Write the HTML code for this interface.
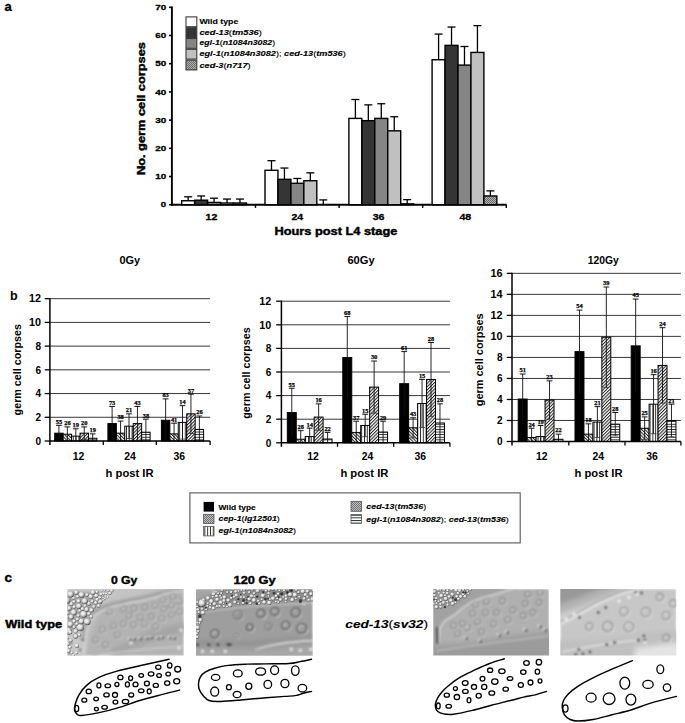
<!DOCTYPE html><html><head><meta charset="utf-8"><style>html,body{margin:0;padding:0;background:#fff;width:685px;height:723px;overflow:hidden}svg{display:block}</style></head><body>
<svg width="685" height="723" viewBox="0 0 685 723">
<defs>
<pattern id="pc3" width="2" height="2" patternUnits="userSpaceOnUse"><rect width="2" height="2" fill="#b0b0b0"/><rect width="1" height="1" fill="#6a6a6a"/><rect x="1" y="1" width="1" height="1" fill="#6a6a6a"/></pattern>
<pattern id="pcep" width="2.3" height="2.3" patternUnits="userSpaceOnUse" patternTransform="rotate(-45)"><rect width="2.3" height="2.3" fill="#fff"/><rect width="1.0" height="2.3" fill="#222"/></pattern>
<pattern id="pegl" width="2.8" height="4" patternUnits="userSpaceOnUse"><rect width="2.8" height="4" fill="#fff"/><rect width="0.9" height="4" fill="#222"/></pattern>
<pattern id="pced" width="2.3" height="2.3" patternUnits="userSpaceOnUse" patternTransform="rotate(45)"><rect width="2.3" height="2.3" fill="#fff"/><rect width="1.0" height="2.3" fill="#222"/></pattern>
<pattern id="pdbl" width="4" height="2.6" patternUnits="userSpaceOnUse"><rect width="4" height="2.6" fill="#fff"/><rect width="4" height="0.9" fill="#222"/></pattern>
<pattern id="plegcep" width="2" height="2" patternUnits="userSpaceOnUse"><rect width="2" height="2" fill="#c0c0c0"/><rect width="1" height="1" fill="#707070"/><rect x="1" y="1" width="1" height="1" fill="#707070"/></pattern>
</defs>
<rect width="685" height="723" fill="#fff"/>
<text x="4.4" y="10.7" font-family='"Liberation Sans", sans-serif' font-size="13" font-weight="bold" font-style="normal" text-anchor="start" stroke="#000" stroke-width="0.3" fill="#000" >a</text>
<line x1="171.90" y1="6.50" x2="171.90" y2="205.70" stroke="#000" stroke-width="1.9"/>
<line x1="170.90" y1="204.70" x2="506.60" y2="204.70" stroke="#000" stroke-width="1.9"/>
<line x1="169.00" y1="204.70" x2="171.90" y2="204.70" stroke="#000" stroke-width="1.6"/>
<text x="166.2" y="207.4" font-family='"Liberation Sans", sans-serif' font-size="8" font-weight="bold" font-style="normal" text-anchor="end" textLength="5.4" lengthAdjust="spacingAndGlyphs" stroke="#000" stroke-width="0.3" fill="#000" >0</text>
<line x1="169.00" y1="176.50" x2="171.90" y2="176.50" stroke="#000" stroke-width="1.6"/>
<text x="166.2" y="179.2" font-family='"Liberation Sans", sans-serif' font-size="8" font-weight="bold" font-style="normal" text-anchor="end" textLength="11.0" lengthAdjust="spacingAndGlyphs" stroke="#000" stroke-width="0.3" fill="#000" >10</text>
<line x1="169.00" y1="148.30" x2="171.90" y2="148.30" stroke="#000" stroke-width="1.6"/>
<text x="166.2" y="151.0" font-family='"Liberation Sans", sans-serif' font-size="8" font-weight="bold" font-style="normal" text-anchor="end" textLength="11.0" lengthAdjust="spacingAndGlyphs" stroke="#000" stroke-width="0.3" fill="#000" >20</text>
<line x1="169.00" y1="120.10" x2="171.90" y2="120.10" stroke="#000" stroke-width="1.6"/>
<text x="166.2" y="122.8" font-family='"Liberation Sans", sans-serif' font-size="8" font-weight="bold" font-style="normal" text-anchor="end" textLength="11.0" lengthAdjust="spacingAndGlyphs" stroke="#000" stroke-width="0.3" fill="#000" >30</text>
<line x1="169.00" y1="91.90" x2="171.90" y2="91.90" stroke="#000" stroke-width="1.6"/>
<text x="166.2" y="94.6" font-family='"Liberation Sans", sans-serif' font-size="8" font-weight="bold" font-style="normal" text-anchor="end" textLength="11.0" lengthAdjust="spacingAndGlyphs" stroke="#000" stroke-width="0.3" fill="#000" >40</text>
<line x1="169.00" y1="63.70" x2="171.90" y2="63.70" stroke="#000" stroke-width="1.6"/>
<text x="166.2" y="66.4" font-family='"Liberation Sans", sans-serif' font-size="8" font-weight="bold" font-style="normal" text-anchor="end" textLength="11.0" lengthAdjust="spacingAndGlyphs" stroke="#000" stroke-width="0.3" fill="#000" >50</text>
<line x1="169.00" y1="35.50" x2="171.90" y2="35.50" stroke="#000" stroke-width="1.6"/>
<text x="166.2" y="38.2" font-family='"Liberation Sans", sans-serif' font-size="8" font-weight="bold" font-style="normal" text-anchor="end" textLength="11.0" lengthAdjust="spacingAndGlyphs" stroke="#000" stroke-width="0.3" fill="#000" >60</text>
<line x1="169.00" y1="7.30" x2="171.90" y2="7.30" stroke="#000" stroke-width="1.6"/>
<text x="166.2" y="10.1" font-family='"Liberation Sans", sans-serif' font-size="8" font-weight="bold" font-style="normal" text-anchor="end" textLength="11.0" lengthAdjust="spacingAndGlyphs" stroke="#000" stroke-width="0.3" fill="#000" >70</text>
<line x1="255.50" y1="204.70" x2="255.50" y2="207.90" stroke="#000" stroke-width="1.4"/>
<line x1="339.10" y1="204.70" x2="339.10" y2="207.90" stroke="#000" stroke-width="1.4"/>
<line x1="422.70" y1="204.70" x2="422.70" y2="207.90" stroke="#000" stroke-width="1.4"/>
<line x1="506.30" y1="204.70" x2="506.30" y2="207.90" stroke="#000" stroke-width="1.4"/>
<line x1="188.17" y1="200.75" x2="188.17" y2="196.80" stroke="#000" stroke-width="1.3"/>
<line x1="184.17" y1="196.80" x2="192.17" y2="196.80" stroke="#000" stroke-width="1.3"/>
<rect x="181.70" y="200.75" width="12.95" height="3.95" fill="#ffffff" stroke="#000" stroke-width="1.4"/>
<line x1="201.12" y1="200.19" x2="201.12" y2="195.96" stroke="#000" stroke-width="1.3"/>
<line x1="197.12" y1="195.96" x2="205.12" y2="195.96" stroke="#000" stroke-width="1.3"/>
<rect x="194.65" y="200.19" width="12.95" height="4.51" fill="#353535" stroke="#000" stroke-width="1.4"/>
<line x1="214.07" y1="202.44" x2="214.07" y2="198.21" stroke="#000" stroke-width="1.3"/>
<line x1="210.07" y1="198.21" x2="218.07" y2="198.21" stroke="#000" stroke-width="1.3"/>
<rect x="207.60" y="202.44" width="12.95" height="2.26" fill="#858585" stroke="#000" stroke-width="1.4"/>
<line x1="227.02" y1="203.01" x2="227.02" y2="199.06" stroke="#000" stroke-width="1.3"/>
<line x1="223.02" y1="199.06" x2="231.02" y2="199.06" stroke="#000" stroke-width="1.3"/>
<rect x="220.55" y="203.01" width="12.95" height="1.69" fill="#c0c0c0" stroke="#000" stroke-width="1.4"/>
<line x1="239.97" y1="203.01" x2="239.97" y2="199.06" stroke="#000" stroke-width="1.3"/>
<line x1="235.97" y1="199.06" x2="243.97" y2="199.06" stroke="#000" stroke-width="1.3"/>
<rect x="233.50" y="203.01" width="12.95" height="1.69" fill="url(#pc3)" stroke="#000" stroke-width="1.4"/>
<line x1="271.48" y1="170.30" x2="271.48" y2="160.71" stroke="#000" stroke-width="1.3"/>
<line x1="267.48" y1="160.71" x2="275.48" y2="160.71" stroke="#000" stroke-width="1.3"/>
<rect x="265.00" y="170.30" width="12.95" height="34.40" fill="#ffffff" stroke="#000" stroke-width="1.4"/>
<line x1="284.43" y1="179.32" x2="284.43" y2="168.04" stroke="#000" stroke-width="1.3"/>
<line x1="280.43" y1="168.04" x2="288.43" y2="168.04" stroke="#000" stroke-width="1.3"/>
<rect x="277.95" y="179.32" width="12.95" height="25.38" fill="#353535" stroke="#000" stroke-width="1.4"/>
<line x1="297.38" y1="183.27" x2="297.38" y2="178.47" stroke="#000" stroke-width="1.3"/>
<line x1="293.38" y1="178.47" x2="301.38" y2="178.47" stroke="#000" stroke-width="1.3"/>
<rect x="290.90" y="183.27" width="12.95" height="21.43" fill="#858585" stroke="#000" stroke-width="1.4"/>
<line x1="310.33" y1="180.73" x2="310.33" y2="172.83" stroke="#000" stroke-width="1.3"/>
<line x1="306.33" y1="172.83" x2="314.33" y2="172.83" stroke="#000" stroke-width="1.3"/>
<rect x="303.85" y="180.73" width="12.95" height="23.97" fill="#c0c0c0" stroke="#000" stroke-width="1.4"/>
<line x1="323.28" y1="204.56" x2="323.28" y2="199.91" stroke="#000" stroke-width="1.3"/>
<line x1="319.28" y1="199.91" x2="327.28" y2="199.91" stroke="#000" stroke-width="1.3"/>
<line x1="355.38" y1="118.41" x2="355.38" y2="99.51" stroke="#000" stroke-width="1.3"/>
<line x1="351.38" y1="99.51" x2="359.38" y2="99.51" stroke="#000" stroke-width="1.3"/>
<rect x="348.90" y="118.41" width="12.95" height="86.29" fill="#ffffff" stroke="#000" stroke-width="1.4"/>
<line x1="368.32" y1="120.66" x2="368.32" y2="104.87" stroke="#000" stroke-width="1.3"/>
<line x1="364.32" y1="104.87" x2="372.32" y2="104.87" stroke="#000" stroke-width="1.3"/>
<rect x="361.85" y="120.66" width="12.95" height="84.04" fill="#353535" stroke="#000" stroke-width="1.4"/>
<line x1="381.27" y1="118.41" x2="381.27" y2="103.74" stroke="#000" stroke-width="1.3"/>
<line x1="377.27" y1="103.74" x2="385.27" y2="103.74" stroke="#000" stroke-width="1.3"/>
<rect x="374.80" y="118.41" width="12.95" height="86.29" fill="#858585" stroke="#000" stroke-width="1.4"/>
<line x1="394.23" y1="130.82" x2="394.23" y2="116.72" stroke="#000" stroke-width="1.3"/>
<line x1="390.23" y1="116.72" x2="398.23" y2="116.72" stroke="#000" stroke-width="1.3"/>
<rect x="387.75" y="130.82" width="12.95" height="73.88" fill="#c0c0c0" stroke="#000" stroke-width="1.4"/>
<line x1="407.18" y1="203.85" x2="407.18" y2="199.62" stroke="#000" stroke-width="1.3"/>
<line x1="403.18" y1="199.62" x2="411.18" y2="199.62" stroke="#000" stroke-width="1.3"/>
<rect x="400.70" y="203.85" width="12.95" height="0.85" fill="url(#pc3)" stroke="#000" stroke-width="1.4"/>
<line x1="438.58" y1="59.75" x2="438.58" y2="34.09" stroke="#000" stroke-width="1.3"/>
<line x1="434.58" y1="34.09" x2="442.58" y2="34.09" stroke="#000" stroke-width="1.3"/>
<rect x="432.10" y="59.75" width="12.95" height="144.95" fill="#ffffff" stroke="#000" stroke-width="1.4"/>
<line x1="451.53" y1="45.37" x2="451.53" y2="27.04" stroke="#000" stroke-width="1.3"/>
<line x1="447.53" y1="27.04" x2="455.53" y2="27.04" stroke="#000" stroke-width="1.3"/>
<rect x="445.05" y="45.37" width="12.95" height="159.33" fill="#353535" stroke="#000" stroke-width="1.4"/>
<line x1="464.48" y1="65.11" x2="464.48" y2="46.50" stroke="#000" stroke-width="1.3"/>
<line x1="460.48" y1="46.50" x2="468.48" y2="46.50" stroke="#000" stroke-width="1.3"/>
<rect x="458.00" y="65.11" width="12.95" height="139.59" fill="#858585" stroke="#000" stroke-width="1.4"/>
<line x1="477.43" y1="52.42" x2="477.43" y2="25.63" stroke="#000" stroke-width="1.3"/>
<line x1="473.43" y1="25.63" x2="481.43" y2="25.63" stroke="#000" stroke-width="1.3"/>
<rect x="470.95" y="52.42" width="12.95" height="152.28" fill="#c0c0c0" stroke="#000" stroke-width="1.4"/>
<line x1="490.38" y1="195.96" x2="490.38" y2="190.88" stroke="#000" stroke-width="1.3"/>
<line x1="486.38" y1="190.88" x2="494.38" y2="190.88" stroke="#000" stroke-width="1.3"/>
<rect x="483.90" y="195.96" width="12.95" height="8.74" fill="url(#pc3)" stroke="#000" stroke-width="1.4"/>
<text x="0.0" y="0.0" font-family='"Liberation Sans", sans-serif' font-size="10" font-weight="bold" font-style="normal" text-anchor="start" textLength="133.0" lengthAdjust="spacingAndGlyphs" stroke="#000" stroke-width="0.4" fill="#000" transform="translate(144.6,175.1) rotate(-90)">No. germ cell corpses</text>
<text x="274.4" y="234.7" font-family='"Liberation Sans", sans-serif' font-size="10" font-weight="bold" font-style="normal" text-anchor="start" textLength="123.0" lengthAdjust="spacingAndGlyphs" stroke="#000" stroke-width="0.4" fill="#000" >Hours post L4 stage</text>
<text x="211.4" y="219.8" font-family='"Liberation Sans", sans-serif' font-size="9" font-weight="bold" font-style="normal" text-anchor="middle" textLength="11.8" lengthAdjust="spacingAndGlyphs" stroke="#000" stroke-width="0.3" fill="#000" >12</text>
<text x="297.3" y="219.8" font-family='"Liberation Sans", sans-serif' font-size="9" font-weight="bold" font-style="normal" text-anchor="middle" textLength="11.8" lengthAdjust="spacingAndGlyphs" stroke="#000" stroke-width="0.3" fill="#000" >24</text>
<text x="378.6" y="219.8" font-family='"Liberation Sans", sans-serif' font-size="9" font-weight="bold" font-style="normal" text-anchor="middle" textLength="11.8" lengthAdjust="spacingAndGlyphs" stroke="#000" stroke-width="0.3" fill="#000" >36</text>
<text x="465.3" y="219.8" font-family='"Liberation Sans", sans-serif' font-size="9" font-weight="bold" font-style="normal" text-anchor="middle" textLength="11.8" lengthAdjust="spacingAndGlyphs" stroke="#000" stroke-width="0.3" fill="#000" >48</text>
<rect x="186.00" y="16.90" width="10.80" height="9.80" fill="#ffffff" stroke="#3a3a3a" stroke-width="1.1"/>
<rect x="186.00" y="27.70" width="10.80" height="9.80" fill="#353535" stroke="#3a3a3a" stroke-width="1.1"/>
<rect x="186.00" y="38.50" width="10.80" height="9.80" fill="#858585" stroke="#3a3a3a" stroke-width="1.1"/>
<rect x="186.00" y="49.30" width="10.80" height="9.80" fill="#c0c0c0" stroke="#3a3a3a" stroke-width="1.1"/>
<rect x="186.00" y="60.10" width="10.80" height="9.80" fill="url(#pc3)" stroke="#3a3a3a" stroke-width="1.1"/>
<text x="199.4" y="24.1" font-family='"Liberation Sans", sans-serif' font-size="7.4" font-weight="bold" textLength="38.9" lengthAdjust="spacingAndGlyphs" stroke="#000" stroke-width="0.12" fill="#000"><tspan font-style="normal" font-weight="bold">Wild type</tspan></text>
<text x="199.4" y="34.8" font-family='"Liberation Sans", sans-serif' font-size="7.4" font-weight="bold" textLength="62.5" lengthAdjust="spacingAndGlyphs" stroke="#000" stroke-width="0.12" fill="#000"><tspan font-style="italic" font-weight="bold">ced-13</tspan><tspan font-style="normal" font-weight="normal">(</tspan><tspan font-style="italic" font-weight="bold">tm536</tspan><tspan font-style="normal" font-weight="normal">)</tspan></text>
<text x="199.4" y="45.3" font-family='"Liberation Sans", sans-serif' font-size="7.4" font-weight="bold" textLength="75.7" lengthAdjust="spacingAndGlyphs" stroke="#000" stroke-width="0.12" fill="#000"><tspan font-style="italic" font-weight="bold">egl-1</tspan><tspan font-style="normal" font-weight="normal">(</tspan><tspan font-style="italic" font-weight="bold">n1084n3082</tspan><tspan font-style="normal" font-weight="normal">)</tspan></text>
<text x="199.4" y="56.4" font-family='"Liberation Sans", sans-serif' font-size="7.4" font-weight="bold" textLength="146.4" lengthAdjust="spacingAndGlyphs" stroke="#000" stroke-width="0.12" fill="#000"><tspan font-style="italic" font-weight="bold">egl-1</tspan><tspan font-style="normal" font-weight="normal">(</tspan><tspan font-style="italic" font-weight="bold">n1084n3082</tspan><tspan font-style="normal" font-weight="normal">); </tspan><tspan font-style="italic" font-weight="bold">ced-13</tspan><tspan font-style="normal" font-weight="normal">(</tspan><tspan font-style="italic" font-weight="bold">tm536</tspan><tspan font-style="normal" font-weight="normal">)</tspan></text>
<text x="199.4" y="67.6" font-family='"Liberation Sans", sans-serif' font-size="7.4" font-weight="bold" textLength="51.3" lengthAdjust="spacingAndGlyphs" stroke="#000" stroke-width="0.12" fill="#000"><tspan font-style="italic" font-weight="bold">ced-3</tspan><tspan font-style="normal" font-weight="normal">(</tspan><tspan font-style="italic" font-weight="bold">n717</tspan><tspan font-style="normal" font-weight="normal">)</tspan></text>
<text x="9.9" y="299.7" font-family='"Liberation Sans", sans-serif' font-size="12.5" font-weight="bold" font-style="normal" text-anchor="start" fill="#000" >b</text>
<line x1="49.90" y1="417.28" x2="210.10" y2="417.28" stroke="#383838" stroke-width="1.0"/>
<line x1="49.90" y1="393.56" x2="210.10" y2="393.56" stroke="#383838" stroke-width="1.0"/>
<line x1="49.90" y1="369.84" x2="210.10" y2="369.84" stroke="#383838" stroke-width="1.0"/>
<line x1="49.90" y1="346.12" x2="210.10" y2="346.12" stroke="#383838" stroke-width="1.0"/>
<line x1="49.90" y1="322.40" x2="210.10" y2="322.40" stroke="#383838" stroke-width="1.0"/>
<line x1="49.90" y1="298.68" x2="210.10" y2="298.68" stroke="#383838" stroke-width="1.0"/>
<rect x="54.70" y="433.17" width="8.44" height="7.83" fill="#000" stroke="#000" stroke-width="1.0"/>
<line x1="58.92" y1="425.34" x2="58.92" y2="441.00" stroke="#111" stroke-width="0.9"/>
<line x1="56.02" y1="425.34" x2="61.82" y2="425.34" stroke="#000" stroke-width="0.9"/>
<text x="58.9" y="423.6" font-family='"Liberation Serif", serif' font-size="6.7" font-weight="bold" font-style="normal" text-anchor="middle" textLength="6.4" lengthAdjust="spacingAndGlyphs" stroke="#000" stroke-width="0.25" fill="#000" >55</text>
<rect x="63.14" y="434.24" width="8.44" height="6.76" fill="url(#pcep)" stroke="#000" stroke-width="1.0"/>
<line x1="67.36" y1="426.89" x2="67.36" y2="441.00" stroke="#111" stroke-width="0.9"/>
<line x1="64.46" y1="426.89" x2="70.26" y2="426.89" stroke="#000" stroke-width="0.9"/>
<text x="67.4" y="425.2" font-family='"Liberation Serif", serif' font-size="6.7" font-weight="bold" font-style="normal" text-anchor="middle" textLength="6.4" lengthAdjust="spacingAndGlyphs" stroke="#000" stroke-width="0.25" fill="#000" >26</text>
<rect x="71.58" y="436.14" width="8.44" height="4.86" fill="url(#pegl)" stroke="#000" stroke-width="1.0"/>
<line x1="75.80" y1="428.78" x2="75.80" y2="441.00" stroke="#111" stroke-width="0.9"/>
<line x1="72.90" y1="428.78" x2="78.70" y2="428.78" stroke="#000" stroke-width="0.9"/>
<text x="75.8" y="427.1" font-family='"Liberation Serif", serif' font-size="6.7" font-weight="bold" font-style="normal" text-anchor="middle" textLength="6.4" lengthAdjust="spacingAndGlyphs" stroke="#000" stroke-width="0.25" fill="#000" >19</text>
<rect x="80.02" y="433.17" width="8.44" height="7.83" fill="url(#pced)" stroke="#000" stroke-width="1.0"/>
<line x1="84.24" y1="426.89" x2="84.24" y2="439.46" stroke="#111" stroke-width="0.9"/>
<line x1="81.34" y1="426.89" x2="87.14" y2="426.89" stroke="#000" stroke-width="0.9"/>
<line x1="81.34" y1="439.46" x2="87.14" y2="439.46" stroke="#333" stroke-width="0.8"/>
<text x="84.2" y="425.2" font-family='"Liberation Serif", serif' font-size="6.7" font-weight="bold" font-style="normal" text-anchor="middle" textLength="6.4" lengthAdjust="spacingAndGlyphs" stroke="#000" stroke-width="0.25" fill="#000" >20</text>
<rect x="88.46" y="438.27" width="8.44" height="2.73" fill="url(#pdbl)" stroke="#000" stroke-width="1.0"/>
<line x1="92.68" y1="433.88" x2="92.68" y2="441.00" stroke="#111" stroke-width="0.9"/>
<line x1="89.78" y1="433.88" x2="95.58" y2="433.88" stroke="#000" stroke-width="0.9"/>
<text x="92.7" y="432.2" font-family='"Liberation Serif", serif' font-size="6.7" font-weight="bold" font-style="normal" text-anchor="middle" textLength="6.4" lengthAdjust="spacingAndGlyphs" stroke="#000" stroke-width="0.25" fill="#000" >19</text>
<rect x="107.90" y="423.57" width="8.44" height="17.43" fill="#000" stroke="#000" stroke-width="1.0"/>
<line x1="112.12" y1="406.49" x2="112.12" y2="440.64" stroke="#111" stroke-width="0.9"/>
<line x1="109.22" y1="406.49" x2="115.02" y2="406.49" stroke="#000" stroke-width="0.9"/>
<text x="112.1" y="404.8" font-family='"Liberation Serif", serif' font-size="6.7" font-weight="bold" font-style="normal" text-anchor="middle" textLength="6.4" lengthAdjust="spacingAndGlyphs" stroke="#000" stroke-width="0.25" fill="#000" >73</text>
<rect x="116.34" y="433.17" width="8.44" height="7.83" fill="url(#pcep)" stroke="#000" stroke-width="1.0"/>
<line x1="120.56" y1="421.08" x2="120.56" y2="441.00" stroke="#111" stroke-width="0.9"/>
<line x1="117.66" y1="421.08" x2="123.46" y2="421.08" stroke="#000" stroke-width="0.9"/>
<text x="120.6" y="419.4" font-family='"Liberation Serif", serif' font-size="6.7" font-weight="bold" font-style="normal" text-anchor="middle" textLength="6.4" lengthAdjust="spacingAndGlyphs" stroke="#000" stroke-width="0.25" fill="#000" >38</text>
<rect x="124.78" y="426.18" width="8.44" height="14.82" fill="url(#pegl)" stroke="#000" stroke-width="1.0"/>
<line x1="129.00" y1="413.84" x2="129.00" y2="438.51" stroke="#111" stroke-width="0.9"/>
<line x1="126.10" y1="413.84" x2="131.90" y2="413.84" stroke="#000" stroke-width="0.9"/>
<line x1="126.10" y1="438.51" x2="131.90" y2="438.51" stroke="#333" stroke-width="0.8"/>
<text x="129.0" y="412.1" font-family='"Liberation Serif", serif' font-size="6.7" font-weight="bold" font-style="normal" text-anchor="middle" textLength="6.4" lengthAdjust="spacingAndGlyphs" stroke="#000" stroke-width="0.25" fill="#000" >21</text>
<rect x="133.22" y="423.57" width="8.44" height="17.43" fill="url(#pced)" stroke="#000" stroke-width="1.0"/>
<line x1="137.44" y1="406.49" x2="137.44" y2="440.64" stroke="#111" stroke-width="0.9"/>
<line x1="134.54" y1="406.49" x2="140.34" y2="406.49" stroke="#000" stroke-width="0.9"/>
<text x="137.4" y="404.8" font-family='"Liberation Serif", serif' font-size="6.7" font-weight="bold" font-style="normal" text-anchor="middle" textLength="6.4" lengthAdjust="spacingAndGlyphs" stroke="#000" stroke-width="0.25" fill="#000" >43</text>
<rect x="141.66" y="432.22" width="8.44" height="8.78" fill="url(#pdbl)" stroke="#000" stroke-width="1.0"/>
<line x1="145.88" y1="419.18" x2="145.88" y2="441.00" stroke="#111" stroke-width="0.9"/>
<line x1="142.98" y1="419.18" x2="148.78" y2="419.18" stroke="#000" stroke-width="0.9"/>
<text x="145.9" y="417.5" font-family='"Liberation Serif", serif' font-size="6.7" font-weight="bold" font-style="normal" text-anchor="middle" textLength="6.4" lengthAdjust="spacingAndGlyphs" stroke="#000" stroke-width="0.25" fill="#000" >38</text>
<rect x="161.40" y="420.25" width="8.44" height="20.75" fill="#000" stroke="#000" stroke-width="1.0"/>
<line x1="165.62" y1="398.90" x2="165.62" y2="441.00" stroke="#111" stroke-width="0.9"/>
<line x1="162.72" y1="398.90" x2="168.52" y2="398.90" stroke="#000" stroke-width="0.9"/>
<text x="165.6" y="397.2" font-family='"Liberation Serif", serif' font-size="6.7" font-weight="bold" font-style="normal" text-anchor="middle" textLength="6.4" lengthAdjust="spacingAndGlyphs" stroke="#000" stroke-width="0.25" fill="#000" >83</text>
<rect x="169.84" y="433.88" width="8.44" height="7.12" fill="url(#pcep)" stroke="#000" stroke-width="1.0"/>
<line x1="174.06" y1="423.21" x2="174.06" y2="441.00" stroke="#111" stroke-width="0.9"/>
<line x1="171.16" y1="423.21" x2="176.96" y2="423.21" stroke="#000" stroke-width="0.9"/>
<text x="174.1" y="421.5" font-family='"Liberation Serif", serif' font-size="6.7" font-weight="bold" font-style="normal" text-anchor="middle" textLength="6.4" lengthAdjust="spacingAndGlyphs" stroke="#000" stroke-width="0.25" fill="#000" >41</text>
<rect x="178.28" y="422.38" width="8.44" height="18.62" fill="url(#pegl)" stroke="#000" stroke-width="1.0"/>
<line x1="182.50" y1="405.66" x2="182.50" y2="439.10" stroke="#111" stroke-width="0.9"/>
<line x1="179.60" y1="405.66" x2="185.40" y2="405.66" stroke="#000" stroke-width="0.9"/>
<line x1="179.60" y1="439.10" x2="185.40" y2="439.10" stroke="#333" stroke-width="0.8"/>
<text x="182.5" y="404.0" font-family='"Liberation Serif", serif' font-size="6.7" font-weight="bold" font-style="normal" text-anchor="middle" textLength="6.4" lengthAdjust="spacingAndGlyphs" stroke="#000" stroke-width="0.25" fill="#000" >14</text>
<rect x="186.72" y="413.84" width="8.44" height="27.16" fill="url(#pced)" stroke="#000" stroke-width="1.0"/>
<line x1="190.94" y1="394.15" x2="190.94" y2="433.53" stroke="#111" stroke-width="0.9"/>
<line x1="188.04" y1="394.15" x2="193.84" y2="394.15" stroke="#000" stroke-width="0.9"/>
<line x1="188.04" y1="433.53" x2="193.84" y2="433.53" stroke="#333" stroke-width="0.8"/>
<text x="190.9" y="392.5" font-family='"Liberation Serif", serif' font-size="6.7" font-weight="bold" font-style="normal" text-anchor="middle" textLength="6.4" lengthAdjust="spacingAndGlyphs" stroke="#000" stroke-width="0.25" fill="#000" >37</text>
<rect x="195.16" y="429.38" width="8.44" height="11.62" fill="url(#pdbl)" stroke="#000" stroke-width="1.0"/>
<line x1="199.38" y1="415.98" x2="199.38" y2="441.00" stroke="#111" stroke-width="0.9"/>
<line x1="196.48" y1="415.98" x2="202.28" y2="415.98" stroke="#000" stroke-width="0.9"/>
<text x="199.4" y="414.3" font-family='"Liberation Serif", serif' font-size="6.7" font-weight="bold" font-style="normal" text-anchor="middle" textLength="6.4" lengthAdjust="spacingAndGlyphs" stroke="#000" stroke-width="0.25" fill="#000" >26</text>
<line x1="49.90" y1="298.18" x2="49.90" y2="445.00" stroke="#000" stroke-width="1.5"/>
<line x1="49.90" y1="441.00" x2="210.10" y2="441.00" stroke="#000" stroke-width="1.5"/>
<line x1="44.70" y1="441.00" x2="49.90" y2="441.00" stroke="#000" stroke-width="1.3"/>
<text x="41.0" y="444.7" font-family='"Liberation Sans", sans-serif' font-size="10" font-weight="bold" font-style="normal" text-anchor="end" textLength="5.6" lengthAdjust="spacingAndGlyphs" fill="#000" >0</text>
<line x1="44.70" y1="417.28" x2="49.90" y2="417.28" stroke="#000" stroke-width="1.3"/>
<text x="41.0" y="421.0" font-family='"Liberation Sans", sans-serif' font-size="10" font-weight="bold" font-style="normal" text-anchor="end" textLength="5.6" lengthAdjust="spacingAndGlyphs" fill="#000" >2</text>
<line x1="44.70" y1="393.56" x2="49.90" y2="393.56" stroke="#000" stroke-width="1.3"/>
<text x="41.0" y="397.3" font-family='"Liberation Sans", sans-serif' font-size="10" font-weight="bold" font-style="normal" text-anchor="end" textLength="5.6" lengthAdjust="spacingAndGlyphs" fill="#000" >4</text>
<line x1="44.70" y1="369.84" x2="49.90" y2="369.84" stroke="#000" stroke-width="1.3"/>
<text x="41.0" y="373.5" font-family='"Liberation Sans", sans-serif' font-size="10" font-weight="bold" font-style="normal" text-anchor="end" textLength="5.6" lengthAdjust="spacingAndGlyphs" fill="#000" >6</text>
<line x1="44.70" y1="346.12" x2="49.90" y2="346.12" stroke="#000" stroke-width="1.3"/>
<text x="41.0" y="349.8" font-family='"Liberation Sans", sans-serif' font-size="10" font-weight="bold" font-style="normal" text-anchor="end" textLength="5.6" lengthAdjust="spacingAndGlyphs" fill="#000" >8</text>
<line x1="44.70" y1="322.40" x2="49.90" y2="322.40" stroke="#000" stroke-width="1.3"/>
<text x="41.0" y="326.1" font-family='"Liberation Sans", sans-serif' font-size="10" font-weight="bold" font-style="normal" text-anchor="end" textLength="12.0" lengthAdjust="spacingAndGlyphs" fill="#000" >10</text>
<line x1="44.70" y1="298.68" x2="49.90" y2="298.68" stroke="#000" stroke-width="1.3"/>
<text x="41.0" y="302.4" font-family='"Liberation Sans", sans-serif' font-size="10" font-weight="bold" font-style="normal" text-anchor="end" textLength="12.0" lengthAdjust="spacingAndGlyphs" fill="#000" >12</text>
<line x1="103.30" y1="441.00" x2="103.30" y2="445.00" stroke="#000" stroke-width="1.3"/>
<line x1="156.30" y1="441.00" x2="156.30" y2="445.00" stroke="#000" stroke-width="1.3"/>
<line x1="210.10" y1="441.00" x2="210.10" y2="445.00" stroke="#000" stroke-width="1.3"/>
<text x="119.4" y="264.0" font-family='"Liberation Sans", sans-serif' font-size="10.5" font-weight="bold" font-style="normal" text-anchor="start" textLength="20.7" lengthAdjust="spacingAndGlyphs" fill="#000" >0Gy</text>
<text x="0.0" y="0.0" font-family='"Liberation Sans", sans-serif' font-size="10" font-weight="bold" font-style="normal" text-anchor="start" textLength="91.3" lengthAdjust="spacingAndGlyphs" fill="#000" transform="translate(20.7,415.4) rotate(-90)">germ cell corpses</text>
<text x="78.6" y="460.3" font-family='"Liberation Sans", sans-serif' font-size="10" font-weight="bold" font-style="normal" text-anchor="middle" textLength="11.6" lengthAdjust="spacingAndGlyphs" fill="#000" >12</text>
<text x="130.1" y="460.3" font-family='"Liberation Sans", sans-serif' font-size="10" font-weight="bold" font-style="normal" text-anchor="middle" textLength="11.6" lengthAdjust="spacingAndGlyphs" fill="#000" >24</text>
<text x="179.3" y="460.3" font-family='"Liberation Sans", sans-serif' font-size="10" font-weight="bold" font-style="normal" text-anchor="middle" textLength="11.6" lengthAdjust="spacingAndGlyphs" fill="#000" >36</text>
<text x="129.6" y="476.5" font-family='"Liberation Sans", sans-serif' font-size="10.5" font-weight="bold" font-style="normal" text-anchor="middle" textLength="48.0" lengthAdjust="spacingAndGlyphs" fill="#000" >h post IR</text>
<line x1="281.40" y1="419.20" x2="449.90" y2="419.20" stroke="#383838" stroke-width="1.0"/>
<line x1="281.40" y1="395.60" x2="449.90" y2="395.60" stroke="#383838" stroke-width="1.0"/>
<line x1="281.40" y1="372.00" x2="449.90" y2="372.00" stroke="#383838" stroke-width="1.0"/>
<line x1="281.40" y1="348.40" x2="449.90" y2="348.40" stroke="#383838" stroke-width="1.0"/>
<line x1="281.40" y1="324.80" x2="449.90" y2="324.80" stroke="#383838" stroke-width="1.0"/>
<line x1="281.40" y1="301.20" x2="449.90" y2="301.20" stroke="#383838" stroke-width="1.0"/>
<rect x="287.30" y="412.59" width="8.95" height="30.21" fill="#000" stroke="#000" stroke-width="1.0"/>
<line x1="291.78" y1="388.28" x2="291.78" y2="436.90" stroke="#111" stroke-width="0.9"/>
<line x1="288.88" y1="388.28" x2="294.68" y2="388.28" stroke="#000" stroke-width="0.9"/>
<text x="291.8" y="386.6" font-family='"Liberation Serif", serif' font-size="6.7" font-weight="bold" font-style="normal" text-anchor="middle" textLength="6.4" lengthAdjust="spacingAndGlyphs" stroke="#000" stroke-width="0.25" fill="#000" >55</text>
<rect x="296.25" y="439.26" width="8.95" height="3.54" fill="url(#pcep)" stroke="#000" stroke-width="1.0"/>
<line x1="300.73" y1="430.65" x2="300.73" y2="442.80" stroke="#111" stroke-width="0.9"/>
<line x1="297.83" y1="430.65" x2="303.62" y2="430.65" stroke="#000" stroke-width="0.9"/>
<text x="300.7" y="428.9" font-family='"Liberation Serif", serif' font-size="6.7" font-weight="bold" font-style="normal" text-anchor="middle" textLength="6.4" lengthAdjust="spacingAndGlyphs" stroke="#000" stroke-width="0.25" fill="#000" >28</text>
<rect x="305.20" y="436.55" width="8.95" height="6.25" fill="url(#pegl)" stroke="#000" stroke-width="1.0"/>
<line x1="309.68" y1="428.17" x2="309.68" y2="442.80" stroke="#111" stroke-width="0.9"/>
<line x1="306.78" y1="428.17" x2="312.57" y2="428.17" stroke="#000" stroke-width="0.9"/>
<text x="309.7" y="426.5" font-family='"Liberation Serif", serif' font-size="6.7" font-weight="bold" font-style="normal" text-anchor="middle" textLength="6.4" lengthAdjust="spacingAndGlyphs" stroke="#000" stroke-width="0.25" fill="#000" >14</text>
<rect x="314.15" y="417.08" width="8.95" height="25.72" fill="url(#pced)" stroke="#000" stroke-width="1.0"/>
<line x1="318.63" y1="403.86" x2="318.63" y2="430.29" stroke="#111" stroke-width="0.9"/>
<line x1="315.73" y1="403.86" x2="321.53" y2="403.86" stroke="#000" stroke-width="0.9"/>
<line x1="315.73" y1="430.29" x2="321.53" y2="430.29" stroke="#333" stroke-width="0.8"/>
<text x="318.6" y="402.2" font-family='"Liberation Serif", serif' font-size="6.7" font-weight="bold" font-style="normal" text-anchor="middle" textLength="6.4" lengthAdjust="spacingAndGlyphs" stroke="#000" stroke-width="0.25" fill="#000" >16</text>
<rect x="323.10" y="439.02" width="8.95" height="3.78" fill="url(#pdbl)" stroke="#000" stroke-width="1.0"/>
<line x1="327.58" y1="432.42" x2="327.58" y2="442.80" stroke="#111" stroke-width="0.9"/>
<line x1="324.68" y1="432.42" x2="330.48" y2="432.42" stroke="#000" stroke-width="0.9"/>
<text x="327.6" y="430.7" font-family='"Liberation Serif", serif' font-size="6.7" font-weight="bold" font-style="normal" text-anchor="middle" textLength="6.4" lengthAdjust="spacingAndGlyphs" stroke="#000" stroke-width="0.25" fill="#000" >22</text>
<rect x="342.80" y="357.49" width="8.95" height="85.31" fill="#000" stroke="#000" stroke-width="1.0"/>
<line x1="347.28" y1="316.54" x2="347.28" y2="398.43" stroke="#111" stroke-width="0.9"/>
<line x1="344.38" y1="316.54" x2="350.18" y2="316.54" stroke="#000" stroke-width="0.9"/>
<text x="347.3" y="314.8" font-family='"Liberation Serif", serif' font-size="6.7" font-weight="bold" font-style="normal" text-anchor="middle" textLength="6.4" lengthAdjust="spacingAndGlyphs" stroke="#000" stroke-width="0.25" fill="#000" >68</text>
<rect x="351.75" y="432.42" width="8.95" height="10.38" fill="url(#pcep)" stroke="#000" stroke-width="1.0"/>
<line x1="356.23" y1="421.21" x2="356.23" y2="442.80" stroke="#111" stroke-width="0.9"/>
<line x1="353.33" y1="421.21" x2="359.12" y2="421.21" stroke="#000" stroke-width="0.9"/>
<text x="356.2" y="419.5" font-family='"Liberation Serif", serif' font-size="6.7" font-weight="bold" font-style="normal" text-anchor="middle" textLength="6.4" lengthAdjust="spacingAndGlyphs" stroke="#000" stroke-width="0.25" fill="#000" >37</text>
<rect x="360.70" y="425.45" width="8.95" height="17.35" fill="url(#pegl)" stroke="#000" stroke-width="1.0"/>
<line x1="365.18" y1="414.24" x2="365.18" y2="436.66" stroke="#111" stroke-width="0.9"/>
<line x1="362.28" y1="414.24" x2="368.07" y2="414.24" stroke="#000" stroke-width="0.9"/>
<line x1="362.28" y1="436.66" x2="368.07" y2="436.66" stroke="#333" stroke-width="0.8"/>
<text x="365.2" y="412.5" font-family='"Liberation Serif", serif' font-size="6.7" font-weight="bold" font-style="normal" text-anchor="middle" textLength="6.4" lengthAdjust="spacingAndGlyphs" stroke="#000" stroke-width="0.25" fill="#000" >15</text>
<rect x="369.65" y="387.10" width="8.95" height="55.70" fill="url(#pced)" stroke="#000" stroke-width="1.0"/>
<line x1="374.13" y1="361.03" x2="374.13" y2="413.18" stroke="#111" stroke-width="0.9"/>
<line x1="371.23" y1="361.03" x2="377.03" y2="361.03" stroke="#000" stroke-width="0.9"/>
<line x1="371.23" y1="413.18" x2="377.03" y2="413.18" stroke="#333" stroke-width="0.8"/>
<text x="374.1" y="359.3" font-family='"Liberation Serif", serif' font-size="6.7" font-weight="bold" font-style="normal" text-anchor="middle" textLength="6.4" lengthAdjust="spacingAndGlyphs" stroke="#000" stroke-width="0.25" fill="#000" >30</text>
<rect x="378.60" y="432.06" width="8.95" height="10.74" fill="url(#pdbl)" stroke="#000" stroke-width="1.0"/>
<line x1="383.08" y1="421.21" x2="383.08" y2="442.80" stroke="#111" stroke-width="0.9"/>
<line x1="380.18" y1="421.21" x2="385.98" y2="421.21" stroke="#000" stroke-width="0.9"/>
<text x="383.1" y="419.5" font-family='"Liberation Serif", serif' font-size="6.7" font-weight="bold" font-style="normal" text-anchor="middle" textLength="6.4" lengthAdjust="spacingAndGlyphs" stroke="#000" stroke-width="0.25" fill="#000" >29</text>
<rect x="399.70" y="383.68" width="8.95" height="59.12" fill="#000" stroke="#000" stroke-width="1.0"/>
<line x1="404.18" y1="351.59" x2="404.18" y2="415.78" stroke="#111" stroke-width="0.9"/>
<line x1="401.28" y1="351.59" x2="407.07" y2="351.59" stroke="#000" stroke-width="0.9"/>
<text x="404.2" y="349.9" font-family='"Liberation Serif", serif' font-size="6.7" font-weight="bold" font-style="normal" text-anchor="middle" textLength="6.4" lengthAdjust="spacingAndGlyphs" stroke="#000" stroke-width="0.25" fill="#000" >61</text>
<rect x="408.65" y="427.81" width="8.95" height="14.99" fill="url(#pcep)" stroke="#000" stroke-width="1.0"/>
<line x1="413.12" y1="417.78" x2="413.12" y2="437.84" stroke="#111" stroke-width="0.9"/>
<line x1="410.23" y1="417.78" x2="416.02" y2="417.78" stroke="#000" stroke-width="0.9"/>
<line x1="410.23" y1="437.84" x2="416.02" y2="437.84" stroke="#333" stroke-width="0.8"/>
<text x="413.1" y="416.1" font-family='"Liberation Serif", serif' font-size="6.7" font-weight="bold" font-style="normal" text-anchor="middle" textLength="6.4" lengthAdjust="spacingAndGlyphs" stroke="#000" stroke-width="0.25" fill="#000" >43</text>
<rect x="417.60" y="403.51" width="8.95" height="39.29" fill="url(#pegl)" stroke="#000" stroke-width="1.0"/>
<line x1="422.07" y1="379.43" x2="422.07" y2="427.58" stroke="#111" stroke-width="0.9"/>
<line x1="419.18" y1="379.43" x2="424.97" y2="379.43" stroke="#000" stroke-width="0.9"/>
<line x1="419.18" y1="427.58" x2="424.97" y2="427.58" stroke="#333" stroke-width="0.8"/>
<text x="422.1" y="377.7" font-family='"Liberation Serif", serif' font-size="6.7" font-weight="bold" font-style="normal" text-anchor="middle" textLength="6.4" lengthAdjust="spacingAndGlyphs" stroke="#000" stroke-width="0.25" fill="#000" >15</text>
<rect x="426.55" y="379.43" width="8.95" height="63.37" fill="url(#pced)" stroke="#000" stroke-width="1.0"/>
<line x1="431.03" y1="342.50" x2="431.03" y2="416.37" stroke="#111" stroke-width="0.9"/>
<line x1="428.13" y1="342.50" x2="433.93" y2="342.50" stroke="#000" stroke-width="0.9"/>
<line x1="428.13" y1="416.37" x2="433.93" y2="416.37" stroke="#333" stroke-width="0.8"/>
<text x="431.0" y="340.8" font-family='"Liberation Serif", serif' font-size="6.7" font-weight="bold" font-style="normal" text-anchor="middle" textLength="6.4" lengthAdjust="spacingAndGlyphs" stroke="#000" stroke-width="0.25" fill="#000" >28</text>
<rect x="435.50" y="422.98" width="8.95" height="19.82" fill="url(#pdbl)" stroke="#000" stroke-width="1.0"/>
<line x1="439.98" y1="403.86" x2="439.98" y2="442.09" stroke="#111" stroke-width="0.9"/>
<line x1="437.08" y1="403.86" x2="442.88" y2="403.86" stroke="#000" stroke-width="0.9"/>
<line x1="437.08" y1="442.09" x2="442.88" y2="442.09" stroke="#333" stroke-width="0.8"/>
<text x="440.0" y="402.2" font-family='"Liberation Serif", serif' font-size="6.7" font-weight="bold" font-style="normal" text-anchor="middle" textLength="6.4" lengthAdjust="spacingAndGlyphs" stroke="#000" stroke-width="0.25" fill="#000" >28</text>
<line x1="281.40" y1="300.70" x2="281.40" y2="446.80" stroke="#000" stroke-width="1.5"/>
<line x1="281.40" y1="442.80" x2="449.90" y2="442.80" stroke="#000" stroke-width="1.5"/>
<line x1="276.20" y1="442.80" x2="281.40" y2="442.80" stroke="#000" stroke-width="1.3"/>
<text x="271.3" y="446.5" font-family='"Liberation Sans", sans-serif' font-size="10" font-weight="bold" font-style="normal" text-anchor="end" textLength="5.6" lengthAdjust="spacingAndGlyphs" fill="#000" >0</text>
<line x1="276.20" y1="419.20" x2="281.40" y2="419.20" stroke="#000" stroke-width="1.3"/>
<text x="271.3" y="422.9" font-family='"Liberation Sans", sans-serif' font-size="10" font-weight="bold" font-style="normal" text-anchor="end" textLength="5.6" lengthAdjust="spacingAndGlyphs" fill="#000" >2</text>
<line x1="276.20" y1="395.60" x2="281.40" y2="395.60" stroke="#000" stroke-width="1.3"/>
<text x="271.3" y="399.3" font-family='"Liberation Sans", sans-serif' font-size="10" font-weight="bold" font-style="normal" text-anchor="end" textLength="5.6" lengthAdjust="spacingAndGlyphs" fill="#000" >4</text>
<line x1="276.20" y1="372.00" x2="281.40" y2="372.00" stroke="#000" stroke-width="1.3"/>
<text x="271.3" y="375.7" font-family='"Liberation Sans", sans-serif' font-size="10" font-weight="bold" font-style="normal" text-anchor="end" textLength="5.6" lengthAdjust="spacingAndGlyphs" fill="#000" >6</text>
<line x1="276.20" y1="348.40" x2="281.40" y2="348.40" stroke="#000" stroke-width="1.3"/>
<text x="271.3" y="352.1" font-family='"Liberation Sans", sans-serif' font-size="10" font-weight="bold" font-style="normal" text-anchor="end" textLength="5.6" lengthAdjust="spacingAndGlyphs" fill="#000" >8</text>
<line x1="276.20" y1="324.80" x2="281.40" y2="324.80" stroke="#000" stroke-width="1.3"/>
<text x="271.3" y="328.5" font-family='"Liberation Sans", sans-serif' font-size="10" font-weight="bold" font-style="normal" text-anchor="end" textLength="12.0" lengthAdjust="spacingAndGlyphs" fill="#000" >10</text>
<line x1="276.20" y1="301.20" x2="281.40" y2="301.20" stroke="#000" stroke-width="1.3"/>
<text x="271.3" y="304.9" font-family='"Liberation Sans", sans-serif' font-size="10" font-weight="bold" font-style="normal" text-anchor="end" textLength="12.0" lengthAdjust="spacingAndGlyphs" fill="#000" >12</text>
<line x1="337.50" y1="442.80" x2="337.50" y2="446.80" stroke="#000" stroke-width="1.3"/>
<line x1="393.70" y1="442.80" x2="393.70" y2="446.80" stroke="#000" stroke-width="1.3"/>
<line x1="449.90" y1="442.80" x2="449.90" y2="446.80" stroke="#000" stroke-width="1.3"/>
<text x="347.4" y="264.0" font-family='"Liberation Sans", sans-serif' font-size="10.5" font-weight="bold" font-style="normal" text-anchor="start" textLength="27.2" lengthAdjust="spacingAndGlyphs" fill="#000" >60Gy</text>
<text x="0.0" y="0.0" font-family='"Liberation Sans", sans-serif' font-size="10" font-weight="bold" font-style="normal" text-anchor="start" textLength="91.3" lengthAdjust="spacingAndGlyphs" fill="#000" transform="translate(249.6,418.7) rotate(-90)">germ cell corpses</text>
<text x="313.1" y="460.3" font-family='"Liberation Sans", sans-serif' font-size="10" font-weight="bold" font-style="normal" text-anchor="middle" textLength="11.6" lengthAdjust="spacingAndGlyphs" fill="#000" >12</text>
<text x="367.5" y="460.3" font-family='"Liberation Sans", sans-serif' font-size="10" font-weight="bold" font-style="normal" text-anchor="middle" textLength="11.6" lengthAdjust="spacingAndGlyphs" fill="#000" >24</text>
<text x="420.3" y="460.3" font-family='"Liberation Sans", sans-serif' font-size="10" font-weight="bold" font-style="normal" text-anchor="middle" textLength="11.6" lengthAdjust="spacingAndGlyphs" fill="#000" >36</text>
<text x="364.4" y="476.5" font-family='"Liberation Sans", sans-serif' font-size="10.5" font-weight="bold" font-style="normal" text-anchor="middle" textLength="48.0" lengthAdjust="spacingAndGlyphs" fill="#000" >h post IR</text>
<line x1="512.00" y1="420.48" x2="680.90" y2="420.48" stroke="#383838" stroke-width="1.0"/>
<line x1="512.00" y1="399.46" x2="680.90" y2="399.46" stroke="#383838" stroke-width="1.0"/>
<line x1="512.00" y1="378.44" x2="680.90" y2="378.44" stroke="#383838" stroke-width="1.0"/>
<line x1="512.00" y1="357.42" x2="680.90" y2="357.42" stroke="#383838" stroke-width="1.0"/>
<line x1="512.00" y1="336.40" x2="680.90" y2="336.40" stroke="#383838" stroke-width="1.0"/>
<line x1="512.00" y1="315.38" x2="680.90" y2="315.38" stroke="#383838" stroke-width="1.0"/>
<line x1="512.00" y1="294.36" x2="680.90" y2="294.36" stroke="#383838" stroke-width="1.0"/>
<line x1="512.00" y1="273.34" x2="680.90" y2="273.34" stroke="#383838" stroke-width="1.0"/>
<rect x="518.20" y="399.04" width="8.95" height="42.46" fill="#000" stroke="#000" stroke-width="1.0"/>
<line x1="522.68" y1="374.03" x2="522.68" y2="424.05" stroke="#111" stroke-width="0.9"/>
<line x1="519.78" y1="374.03" x2="525.58" y2="374.03" stroke="#000" stroke-width="0.9"/>
<text x="522.7" y="372.3" font-family='"Liberation Serif", serif' font-size="6.7" font-weight="bold" font-style="normal" text-anchor="middle" textLength="6.4" lengthAdjust="spacingAndGlyphs" stroke="#000" stroke-width="0.25" fill="#000" >51</text>
<rect x="527.15" y="437.51" width="8.95" height="3.99" fill="url(#pcep)" stroke="#000" stroke-width="1.0"/>
<line x1="531.63" y1="428.26" x2="531.63" y2="441.50" stroke="#111" stroke-width="0.9"/>
<line x1="528.73" y1="428.26" x2="534.53" y2="428.26" stroke="#000" stroke-width="0.9"/>
<text x="531.6" y="426.6" font-family='"Liberation Serif", serif' font-size="6.7" font-weight="bold" font-style="normal" text-anchor="middle" textLength="6.4" lengthAdjust="spacingAndGlyphs" stroke="#000" stroke-width="0.25" fill="#000" >24</text>
<rect x="536.10" y="436.56" width="8.95" height="4.94" fill="url(#pegl)" stroke="#000" stroke-width="1.0"/>
<line x1="540.58" y1="425.52" x2="540.58" y2="441.50" stroke="#111" stroke-width="0.9"/>
<line x1="537.68" y1="425.52" x2="543.48" y2="425.52" stroke="#000" stroke-width="0.9"/>
<text x="540.6" y="423.8" font-family='"Liberation Serif", serif' font-size="6.7" font-weight="bold" font-style="normal" text-anchor="middle" textLength="6.4" lengthAdjust="spacingAndGlyphs" stroke="#000" stroke-width="0.25" fill="#000" >19</text>
<rect x="545.05" y="400.09" width="8.95" height="41.41" fill="url(#pced)" stroke="#000" stroke-width="1.0"/>
<line x1="549.53" y1="380.86" x2="549.53" y2="419.32" stroke="#111" stroke-width="0.9"/>
<line x1="546.63" y1="380.86" x2="552.43" y2="380.86" stroke="#000" stroke-width="0.9"/>
<line x1="546.63" y1="419.32" x2="552.43" y2="419.32" stroke="#333" stroke-width="0.8"/>
<text x="549.5" y="379.2" font-family='"Liberation Serif", serif' font-size="6.7" font-weight="bold" font-style="normal" text-anchor="middle" textLength="6.4" lengthAdjust="spacingAndGlyphs" stroke="#000" stroke-width="0.25" fill="#000" >23</text>
<rect x="554.00" y="439.29" width="8.95" height="2.21" fill="url(#pdbl)" stroke="#000" stroke-width="1.0"/>
<line x1="558.48" y1="434.14" x2="558.48" y2="441.50" stroke="#111" stroke-width="0.9"/>
<line x1="555.58" y1="434.14" x2="561.38" y2="434.14" stroke="#000" stroke-width="0.9"/>
<text x="558.5" y="432.4" font-family='"Liberation Serif", serif' font-size="6.7" font-weight="bold" font-style="normal" text-anchor="middle" textLength="6.4" lengthAdjust="spacingAndGlyphs" stroke="#000" stroke-width="0.25" fill="#000" >22</text>
<rect x="575.00" y="351.64" width="8.95" height="89.86" fill="#000" stroke="#000" stroke-width="1.0"/>
<line x1="579.48" y1="310.12" x2="579.48" y2="393.15" stroke="#111" stroke-width="0.9"/>
<line x1="576.58" y1="310.12" x2="582.38" y2="310.12" stroke="#000" stroke-width="0.9"/>
<text x="579.5" y="308.4" font-family='"Liberation Serif", serif' font-size="6.7" font-weight="bold" font-style="normal" text-anchor="middle" textLength="6.4" lengthAdjust="spacingAndGlyphs" stroke="#000" stroke-width="0.25" fill="#000" >54</text>
<rect x="583.95" y="434.14" width="8.95" height="7.36" fill="url(#pcep)" stroke="#000" stroke-width="1.0"/>
<line x1="588.43" y1="423.84" x2="588.43" y2="441.50" stroke="#111" stroke-width="0.9"/>
<line x1="585.53" y1="423.84" x2="591.33" y2="423.84" stroke="#000" stroke-width="0.9"/>
<text x="588.4" y="422.1" font-family='"Liberation Serif", serif' font-size="6.7" font-weight="bold" font-style="normal" text-anchor="middle" textLength="6.4" lengthAdjust="spacingAndGlyphs" stroke="#000" stroke-width="0.25" fill="#000" >18</text>
<rect x="592.90" y="422.06" width="8.95" height="19.44" fill="url(#pegl)" stroke="#000" stroke-width="1.0"/>
<line x1="597.38" y1="406.61" x2="597.38" y2="437.51" stroke="#111" stroke-width="0.9"/>
<line x1="594.48" y1="406.61" x2="600.27" y2="406.61" stroke="#000" stroke-width="0.9"/>
<line x1="594.48" y1="437.51" x2="600.27" y2="437.51" stroke="#333" stroke-width="0.8"/>
<text x="597.4" y="404.9" font-family='"Liberation Serif", serif' font-size="6.7" font-weight="bold" font-style="normal" text-anchor="middle" textLength="6.4" lengthAdjust="spacingAndGlyphs" stroke="#000" stroke-width="0.25" fill="#000" >21</text>
<rect x="601.85" y="337.24" width="8.95" height="104.26" fill="url(#pced)" stroke="#000" stroke-width="1.0"/>
<line x1="606.33" y1="287.00" x2="606.33" y2="387.48" stroke="#111" stroke-width="0.9"/>
<line x1="603.43" y1="287.00" x2="609.23" y2="287.00" stroke="#000" stroke-width="0.9"/>
<line x1="603.43" y1="387.48" x2="609.23" y2="387.48" stroke="#333" stroke-width="0.8"/>
<text x="606.3" y="285.3" font-family='"Liberation Serif", serif' font-size="6.7" font-weight="bold" font-style="normal" text-anchor="middle" textLength="6.4" lengthAdjust="spacingAndGlyphs" stroke="#000" stroke-width="0.25" fill="#000" >39</text>
<rect x="610.80" y="424.16" width="8.95" height="17.34" fill="url(#pdbl)" stroke="#000" stroke-width="1.0"/>
<line x1="615.27" y1="412.49" x2="615.27" y2="435.82" stroke="#111" stroke-width="0.9"/>
<line x1="612.38" y1="412.49" x2="618.17" y2="412.49" stroke="#000" stroke-width="0.9"/>
<line x1="612.38" y1="435.82" x2="618.17" y2="435.82" stroke="#333" stroke-width="0.8"/>
<text x="615.3" y="410.8" font-family='"Liberation Serif", serif' font-size="6.7" font-weight="bold" font-style="normal" text-anchor="middle" textLength="6.4" lengthAdjust="spacingAndGlyphs" stroke="#000" stroke-width="0.25" fill="#000" >28</text>
<rect x="631.20" y="345.86" width="8.95" height="95.64" fill="#000" stroke="#000" stroke-width="1.0"/>
<line x1="635.68" y1="299.09" x2="635.68" y2="392.63" stroke="#111" stroke-width="0.9"/>
<line x1="632.78" y1="299.09" x2="638.58" y2="299.09" stroke="#000" stroke-width="0.9"/>
<text x="635.7" y="297.4" font-family='"Liberation Serif", serif' font-size="6.7" font-weight="bold" font-style="normal" text-anchor="middle" textLength="6.4" lengthAdjust="spacingAndGlyphs" stroke="#000" stroke-width="0.25" fill="#000" >45</text>
<rect x="640.15" y="428.26" width="8.95" height="13.24" fill="url(#pcep)" stroke="#000" stroke-width="1.0"/>
<line x1="644.63" y1="416.91" x2="644.63" y2="439.61" stroke="#111" stroke-width="0.9"/>
<line x1="641.73" y1="416.91" x2="647.53" y2="416.91" stroke="#000" stroke-width="0.9"/>
<line x1="641.73" y1="439.61" x2="647.53" y2="439.61" stroke="#333" stroke-width="0.8"/>
<text x="644.6" y="415.2" font-family='"Liberation Serif", serif' font-size="6.7" font-weight="bold" font-style="normal" text-anchor="middle" textLength="6.4" lengthAdjust="spacingAndGlyphs" stroke="#000" stroke-width="0.25" fill="#000" >25</text>
<rect x="649.10" y="404.19" width="8.95" height="37.31" fill="url(#pegl)" stroke="#000" stroke-width="1.0"/>
<line x1="653.58" y1="374.66" x2="653.58" y2="433.72" stroke="#111" stroke-width="0.9"/>
<line x1="650.68" y1="374.66" x2="656.48" y2="374.66" stroke="#000" stroke-width="0.9"/>
<line x1="650.68" y1="433.72" x2="656.48" y2="433.72" stroke="#333" stroke-width="0.8"/>
<text x="653.6" y="373.0" font-family='"Liberation Serif", serif' font-size="6.7" font-weight="bold" font-style="normal" text-anchor="middle" textLength="6.4" lengthAdjust="spacingAndGlyphs" stroke="#000" stroke-width="0.25" fill="#000" >16</text>
<rect x="658.05" y="365.41" width="8.95" height="76.09" fill="url(#pced)" stroke="#000" stroke-width="1.0"/>
<line x1="662.53" y1="327.68" x2="662.53" y2="403.14" stroke="#111" stroke-width="0.9"/>
<line x1="659.63" y1="327.68" x2="665.43" y2="327.68" stroke="#000" stroke-width="0.9"/>
<line x1="659.63" y1="403.14" x2="665.43" y2="403.14" stroke="#333" stroke-width="0.8"/>
<text x="662.5" y="326.0" font-family='"Liberation Serif", serif' font-size="6.7" font-weight="bold" font-style="normal" text-anchor="middle" textLength="6.4" lengthAdjust="spacingAndGlyphs" stroke="#000" stroke-width="0.25" fill="#000" >24</text>
<rect x="667.00" y="420.48" width="8.95" height="21.02" fill="url(#pdbl)" stroke="#000" stroke-width="1.0"/>
<line x1="671.48" y1="404.19" x2="671.48" y2="436.77" stroke="#111" stroke-width="0.9"/>
<line x1="668.58" y1="404.19" x2="674.38" y2="404.19" stroke="#000" stroke-width="0.9"/>
<line x1="668.58" y1="436.77" x2="674.38" y2="436.77" stroke="#333" stroke-width="0.8"/>
<text x="671.5" y="402.5" font-family='"Liberation Serif", serif' font-size="6.7" font-weight="bold" font-style="normal" text-anchor="middle" textLength="6.4" lengthAdjust="spacingAndGlyphs" stroke="#000" stroke-width="0.25" fill="#000" >21</text>
<line x1="512.00" y1="272.84" x2="512.00" y2="445.50" stroke="#000" stroke-width="1.5"/>
<line x1="512.00" y1="441.50" x2="680.90" y2="441.50" stroke="#000" stroke-width="1.5"/>
<line x1="506.80" y1="441.50" x2="512.00" y2="441.50" stroke="#000" stroke-width="1.3"/>
<text x="502.5" y="445.2" font-family='"Liberation Sans", sans-serif' font-size="10" font-weight="bold" font-style="normal" text-anchor="end" textLength="5.6" lengthAdjust="spacingAndGlyphs" fill="#000" >0</text>
<line x1="506.80" y1="420.48" x2="512.00" y2="420.48" stroke="#000" stroke-width="1.3"/>
<text x="502.5" y="424.2" font-family='"Liberation Sans", sans-serif' font-size="10" font-weight="bold" font-style="normal" text-anchor="end" textLength="5.6" lengthAdjust="spacingAndGlyphs" fill="#000" >2</text>
<line x1="506.80" y1="399.46" x2="512.00" y2="399.46" stroke="#000" stroke-width="1.3"/>
<text x="502.5" y="403.2" font-family='"Liberation Sans", sans-serif' font-size="10" font-weight="bold" font-style="normal" text-anchor="end" textLength="5.6" lengthAdjust="spacingAndGlyphs" fill="#000" >4</text>
<line x1="506.80" y1="378.44" x2="512.00" y2="378.44" stroke="#000" stroke-width="1.3"/>
<text x="502.5" y="382.1" font-family='"Liberation Sans", sans-serif' font-size="10" font-weight="bold" font-style="normal" text-anchor="end" textLength="5.6" lengthAdjust="spacingAndGlyphs" fill="#000" >6</text>
<line x1="506.80" y1="357.42" x2="512.00" y2="357.42" stroke="#000" stroke-width="1.3"/>
<text x="502.5" y="361.1" font-family='"Liberation Sans", sans-serif' font-size="10" font-weight="bold" font-style="normal" text-anchor="end" textLength="5.6" lengthAdjust="spacingAndGlyphs" fill="#000" >8</text>
<line x1="506.80" y1="336.40" x2="512.00" y2="336.40" stroke="#000" stroke-width="1.3"/>
<text x="502.5" y="340.1" font-family='"Liberation Sans", sans-serif' font-size="10" font-weight="bold" font-style="normal" text-anchor="end" textLength="12.0" lengthAdjust="spacingAndGlyphs" fill="#000" >10</text>
<line x1="506.80" y1="315.38" x2="512.00" y2="315.38" stroke="#000" stroke-width="1.3"/>
<text x="502.5" y="319.1" font-family='"Liberation Sans", sans-serif' font-size="10" font-weight="bold" font-style="normal" text-anchor="end" textLength="12.0" lengthAdjust="spacingAndGlyphs" fill="#000" >12</text>
<line x1="506.80" y1="294.36" x2="512.00" y2="294.36" stroke="#000" stroke-width="1.3"/>
<text x="502.5" y="298.1" font-family='"Liberation Sans", sans-serif' font-size="10" font-weight="bold" font-style="normal" text-anchor="end" textLength="12.0" lengthAdjust="spacingAndGlyphs" fill="#000" >14</text>
<line x1="506.80" y1="273.34" x2="512.00" y2="273.34" stroke="#000" stroke-width="1.3"/>
<text x="502.5" y="277.0" font-family='"Liberation Sans", sans-serif' font-size="10" font-weight="bold" font-style="normal" text-anchor="end" textLength="12.0" lengthAdjust="spacingAndGlyphs" fill="#000" >16</text>
<line x1="568.80" y1="441.50" x2="568.80" y2="445.50" stroke="#000" stroke-width="1.3"/>
<line x1="625.00" y1="441.50" x2="625.00" y2="445.50" stroke="#000" stroke-width="1.3"/>
<line x1="680.90" y1="441.50" x2="680.90" y2="445.50" stroke="#000" stroke-width="1.3"/>
<text x="587.7" y="264.0" font-family='"Liberation Sans", sans-serif' font-size="10.5" font-weight="bold" font-style="normal" text-anchor="start" textLength="31.0" lengthAdjust="spacingAndGlyphs" fill="#000" >120Gy</text>
<text x="0.0" y="0.0" font-family='"Liberation Sans", sans-serif' font-size="10" font-weight="bold" font-style="normal" text-anchor="start" textLength="92.9" lengthAdjust="spacingAndGlyphs" fill="#000" transform="translate(483.0,406.2) rotate(-90)">germ cell corpses</text>
<text x="541.8" y="460.3" font-family='"Liberation Sans", sans-serif' font-size="10" font-weight="bold" font-style="normal" text-anchor="middle" textLength="11.6" lengthAdjust="spacingAndGlyphs" fill="#000" >12</text>
<text x="598.3" y="460.3" font-family='"Liberation Sans", sans-serif' font-size="10" font-weight="bold" font-style="normal" text-anchor="middle" textLength="11.6" lengthAdjust="spacingAndGlyphs" fill="#000" >24</text>
<text x="652.1" y="460.3" font-family='"Liberation Sans", sans-serif' font-size="10" font-weight="bold" font-style="normal" text-anchor="middle" textLength="11.6" lengthAdjust="spacingAndGlyphs" fill="#000" >36</text>
<text x="598.5" y="476.5" font-family='"Liberation Sans", sans-serif' font-size="10.5" font-weight="bold" font-style="normal" text-anchor="middle" textLength="48.0" lengthAdjust="spacingAndGlyphs" fill="#000" >h post IR</text>
<rect x="189.90" y="492.90" width="330.30" height="50.00" fill="none" stroke="#555" stroke-width="1.1"/>
<rect x="203.60" y="501.90" width="10.40" height="9.70" fill="#000"/>
<rect x="203.60" y="514.30" width="10.40" height="9.20" fill="url(#plegcep)" stroke="#555" stroke-width="0.8"/>
<rect x="203.60" y="526.40" width="10.40" height="9.50" fill="url(#pegl)" stroke="#555" stroke-width="0.8"/>
<rect x="351.00" y="501.30" width="10.50" height="10.00" fill="url(#plegcep)" stroke="#555" stroke-width="0.8"/>
<rect x="351.00" y="514.40" width="10.50" height="9.00" fill="url(#pdbl)" stroke="#555" stroke-width="0.8"/>
<text x="218.5" y="509.8" font-family='"Liberation Sans", sans-serif' font-size="7.6" font-weight="bold" textLength="37.2" lengthAdjust="spacingAndGlyphs" stroke="#000" stroke-width="0.12" fill="#000"><tspan font-style="normal" font-weight="bold">Wild type</tspan></text>
<text x="218.5" y="521.2" font-family='"Liberation Sans", sans-serif' font-size="7.6" font-weight="bold" textLength="61.3" lengthAdjust="spacingAndGlyphs" stroke="#000" stroke-width="0.12" fill="#000"><tspan font-style="italic" font-weight="bold">cep-1</tspan><tspan font-style="normal" font-weight="normal">(</tspan><tspan font-style="italic" font-weight="bold">lg12501</tspan><tspan font-style="normal" font-weight="normal">)</tspan></text>
<text x="218.5" y="532.8" font-family='"Liberation Sans", sans-serif' font-size="7.6" font-weight="bold" textLength="77.6" lengthAdjust="spacingAndGlyphs" stroke="#000" stroke-width="0.12" fill="#000"><tspan font-style="italic" font-weight="bold">egl-1</tspan><tspan font-style="normal" font-weight="normal">(</tspan><tspan font-style="italic" font-weight="bold">n1084n3082</tspan><tspan font-style="normal" font-weight="normal">)</tspan></text>
<text x="366.3" y="509.4" font-family='"Liberation Sans", sans-serif' font-size="7.6" font-weight="bold" textLength="59.9" lengthAdjust="spacingAndGlyphs" stroke="#000" stroke-width="0.12" fill="#000"><tspan font-style="italic" font-weight="bold">ced-13</tspan><tspan font-style="normal" font-weight="normal">(</tspan><tspan font-style="italic" font-weight="bold">tm536</tspan><tspan font-style="normal" font-weight="normal">)</tspan></text>
<text x="366.3" y="521.5" font-family='"Liberation Sans", sans-serif' font-size="7.6" font-weight="bold" textLength="142.5" lengthAdjust="spacingAndGlyphs" stroke="#000" stroke-width="0.12" fill="#000"><tspan font-style="italic" font-weight="bold">egl-1</tspan><tspan font-style="normal" font-weight="normal">(</tspan><tspan font-style="italic" font-weight="bold">n1084n3082</tspan><tspan font-style="normal" font-weight="normal">); </tspan><tspan font-style="italic" font-weight="bold">ced-13</tspan><tspan font-style="normal" font-weight="normal">(</tspan><tspan font-style="italic" font-weight="bold">tm536</tspan><tspan font-style="normal" font-weight="normal">)</tspan></text>
<text x="4.6" y="581.9" font-family='"Liberation Sans", sans-serif' font-size="13.5" font-weight="bold" font-style="normal" text-anchor="start" stroke="#000" stroke-width="0.4" fill="#000" >c</text>
<text x="110.9" y="583.7" font-family='"Liberation Sans", sans-serif' font-size="10.5" font-weight="bold" font-style="normal" text-anchor="start" textLength="26.5" lengthAdjust="spacingAndGlyphs" stroke="#000" stroke-width="0.4" fill="#000" >0 Gy</text>
<text x="233.6" y="583.7" font-family='"Liberation Sans", sans-serif' font-size="10.5" font-weight="bold" font-style="normal" text-anchor="start" textLength="42.1" lengthAdjust="spacingAndGlyphs" stroke="#000" stroke-width="0.4" fill="#000" >120 Gy</text>
<text x="5.3" y="628.2" font-family='"Liberation Sans", sans-serif' font-size="11" font-weight="bold" font-style="normal" text-anchor="start" textLength="56.8" lengthAdjust="spacingAndGlyphs" stroke="#000" stroke-width="0.45" fill="#000" >Wild type</text>
<text x="345.3" y="627.6" font-family='"Liberation Sans", sans-serif' font-size="11" font-weight="bold" textLength="82.7" lengthAdjust="spacingAndGlyphs" stroke="#000" stroke-width="0.12" fill="#000"><tspan font-style="italic" font-weight="bold">ced-13</tspan><tspan font-style="normal" font-weight="normal">(</tspan><tspan font-style="italic" font-weight="bold">sv32</tspan><tspan font-style="normal" font-weight="normal">)</tspan></text>
<defs>
<filter id="mb" x="-10%" y="-10%" width="120%" height="120%"><feGaussianBlur stdDeviation="0.8"/></filter>
<filter id="mbl" x="-30%" y="-30%" width="160%" height="160%"><feGaussianBlur stdDeviation="2.5"/></filter>
<radialGradient id="gran" cx="38%" cy="35%" r="62%"><stop offset="0" stop-color="#f6f6f6"/><stop offset="0.45" stop-color="#dedede"/><stop offset="0.8" stop-color="#9a9a9a"/><stop offset="1" stop-color="#555555"/></radialGradient>
<radialGradient id="grand" cx="60%" cy="60%" r="60%"><stop offset="0" stop-color="#2a2a2a"/><stop offset="0.7" stop-color="#555"/><stop offset="1" stop-color="#888" stop-opacity="0"/></radialGradient>
<clipPath id="mc0"><rect x="67.4" y="589.0" width="116.5" height="66.8"/></clipPath>
<clipPath id="mc1"><rect x="196.0" y="589.2" width="116.8" height="66.6"/></clipPath>
<clipPath id="mc2"><rect x="433.3" y="589.0" width="115.7" height="66.6"/></clipPath>
<clipPath id="mc3"><rect x="560.3" y="589.0" width="116.0" height="66.6"/></clipPath>
</defs>
<g clip-path="url(#mc0)"><g filter="url(#mb)"><rect x="67.4" y="589.0" width="116.5" height="66.8" fill="#b3b3b3"/><path d="M60,580 L190,580 L190,588 L164,592 L140,597 L115,602 L100,606 L60,615 Z" fill="#c4c4c4" filter="url(#mbl)"/><path d="M64,586 L104,586 L100,610 L90,630 L84,660 L64,660 Z" fill="#c8c8c8" filter="url(#mbl)"/><path d="M82,640 C84,630 86,622 90,616 C95,611 102,607.5 108,605.5 C118,602.5 128,600.5 140,598.3 C150,596 160,593 184,588" fill="none" stroke="#9c9c9c" stroke-width="3.2" filter="url(#mb)"/><path d="M84,656 C85,640 86,630 88.8,619.5 C92,615.5 95,614.5 97.5,613.4 C101,611 104,610 106.3,609 C110,607.5 112,606.8 115,606 C120,605 122,604.6 123.8,604.2 C130,602.8 135,602 140,601.1 C148,599.5 152,598.2 155,597.5 C160,596 162,595 164.3,594 C172,592 178,591 184,590.4" fill="none" stroke="#d6d6d6" stroke-width="1.6"/><path d="M110,650 L130,641 L153,630 L184,623 L190,630 L150,642 L115,656 Z" fill="#a4a4a4" filter="url(#mbl)"/><path d="M92,657 C115,651 150,649 184,646" fill="none" stroke="#cacaca" stroke-width="1.4"/><circle cx="69.0" cy="628.0" r="1.2" fill="#2a2a2a"/><circle cx="71.0" cy="643.0" r="1.2" fill="#2a2a2a"/><circle cx="69.0" cy="653.0" r="1.2" fill="#2a2a2a"/><circle cx="80.0" cy="650.0" r="1.2" fill="#2a2a2a"/><circle cx="83.0" cy="640.0" r="1.2" fill="#2a2a2a"/><circle cx="75.0" cy="636.0" r="1.2" fill="#2a2a2a"/><circle cx="75.0" cy="600.0" r="0.9" fill="#5a5a5a"/><circle cx="85.0" cy="600.0" r="0.9" fill="#5a5a5a"/><circle cx="90.0" cy="609.0" r="0.9" fill="#5a5a5a"/><circle cx="78.0" cy="615.0" r="0.9" fill="#5a5a5a"/><circle cx="83.0" cy="622.0" r="0.9" fill="#5a5a5a"/><circle cx="74.0" cy="629.0" r="0.9" fill="#5a5a5a"/><circle cx="89.0" cy="604.0" r="0.9" fill="#5a5a5a"/><circle cx="95.0" cy="603.0" r="0.9" fill="#5a5a5a"/><circle cx="70.0" cy="606.0" r="0.9" fill="#5a5a5a"/><circle cx="87.0" cy="616.0" r="0.9" fill="#5a5a5a"/><circle cx="124.9" cy="609.8" r="3.0" fill="none" stroke="#cecece" stroke-width="1.1"/><circle cx="124.0" cy="608.9" r="3.0" fill="none" stroke="#8e8e8e" stroke-width="1.1"/><circle cx="135.1" cy="609.3" r="3.0" fill="none" stroke="#cecece" stroke-width="1.1"/><circle cx="134.2" cy="608.4" r="3.0" fill="none" stroke="#8e8e8e" stroke-width="1.1"/><circle cx="146.1" cy="608.3" r="3.0" fill="none" stroke="#cecece" stroke-width="1.1"/><circle cx="145.2" cy="607.4" r="3.0" fill="none" stroke="#8e8e8e" stroke-width="1.1"/><circle cx="156.2" cy="606.4" r="3.0" fill="none" stroke="#cecece" stroke-width="1.1"/><circle cx="155.3" cy="605.5" r="3.0" fill="none" stroke="#8e8e8e" stroke-width="1.1"/><circle cx="164.0" cy="600.6" r="3.0" fill="none" stroke="#cecece" stroke-width="1.1"/><circle cx="163.1" cy="599.7" r="3.0" fill="none" stroke="#8e8e8e" stroke-width="1.1"/><circle cx="172.6" cy="606.4" r="3.0" fill="none" stroke="#cecece" stroke-width="1.1"/><circle cx="171.7" cy="605.5" r="3.0" fill="none" stroke="#8e8e8e" stroke-width="1.1"/><circle cx="180.3" cy="602.1" r="3.0" fill="none" stroke="#cecece" stroke-width="1.1"/><circle cx="179.4" cy="601.2" r="3.0" fill="none" stroke="#8e8e8e" stroke-width="1.1"/><circle cx="164.9" cy="609.8" r="3.0" fill="none" stroke="#cecece" stroke-width="1.1"/><circle cx="164.0" cy="608.9" r="3.0" fill="none" stroke="#8e8e8e" stroke-width="1.1"/><circle cx="174.1" cy="597.7" r="3.0" fill="none" stroke="#cecece" stroke-width="1.1"/><circle cx="173.2" cy="596.8" r="3.0" fill="none" stroke="#8e8e8e" stroke-width="1.1"/><circle cx="180.8" cy="612.6" r="3.0" fill="none" stroke="#cecece" stroke-width="1.1"/><circle cx="179.9" cy="611.7" r="3.0" fill="none" stroke="#8e8e8e" stroke-width="1.1"/><circle cx="163.0" cy="619.4" r="3.0" fill="none" stroke="#cecece" stroke-width="1.1"/><circle cx="162.1" cy="618.5" r="3.0" fill="none" stroke="#8e8e8e" stroke-width="1.1"/><circle cx="152.4" cy="617.5" r="3.0" fill="none" stroke="#cecece" stroke-width="1.1"/><circle cx="151.5" cy="616.6" r="3.0" fill="none" stroke="#8e8e8e" stroke-width="1.1"/><circle cx="141.3" cy="618.4" r="3.0" fill="none" stroke="#cecece" stroke-width="1.1"/><circle cx="140.4" cy="617.5" r="3.0" fill="none" stroke="#8e8e8e" stroke-width="1.1"/><circle cx="130.2" cy="616.5" r="3.0" fill="none" stroke="#cecece" stroke-width="1.1"/><circle cx="129.3" cy="615.6" r="3.0" fill="none" stroke="#8e8e8e" stroke-width="1.1"/><circle cx="172.6" cy="615.6" r="3.0" fill="none" stroke="#cecece" stroke-width="1.1"/><circle cx="171.7" cy="614.7" r="3.0" fill="none" stroke="#8e8e8e" stroke-width="1.1"/><circle cx="114.6" cy="626.6" r="3.0" fill="none" stroke="#cecece" stroke-width="1.1"/><circle cx="113.7" cy="625.7" r="3.0" fill="none" stroke="#8e8e8e" stroke-width="1.1"/><circle cx="124.6" cy="624.6" r="3.0" fill="none" stroke="#cecece" stroke-width="1.1"/><circle cx="123.7" cy="623.7" r="3.0" fill="none" stroke="#8e8e8e" stroke-width="1.1"/><circle cx="134.6" cy="625.6" r="3.0" fill="none" stroke="#cecece" stroke-width="1.1"/><circle cx="133.7" cy="624.7" r="3.0" fill="none" stroke="#8e8e8e" stroke-width="1.1"/><circle cx="145.6" cy="624.6" r="3.0" fill="none" stroke="#cecece" stroke-width="1.1"/><circle cx="144.7" cy="623.7" r="3.0" fill="none" stroke="#8e8e8e" stroke-width="1.1"/><circle cx="156.6" cy="627.6" r="3.0" fill="none" stroke="#cecece" stroke-width="1.1"/><circle cx="155.7" cy="626.7" r="3.0" fill="none" stroke="#8e8e8e" stroke-width="1.1"/><circle cx="103.6" cy="630.6" r="3.0" fill="none" stroke="#cecece" stroke-width="1.1"/><circle cx="102.7" cy="629.7" r="3.0" fill="none" stroke="#8e8e8e" stroke-width="1.1"/><circle cx="110.6" cy="612.6" r="3.0" fill="none" stroke="#cecece" stroke-width="1.1"/><circle cx="109.7" cy="611.7" r="3.0" fill="none" stroke="#8e8e8e" stroke-width="1.1"/><circle cx="118.6" cy="635.6" r="3.0" fill="none" stroke="#cecece" stroke-width="1.1"/><circle cx="117.7" cy="634.7" r="3.0" fill="none" stroke="#8e8e8e" stroke-width="1.1"/><circle cx="96.6" cy="640.6" r="3.0" fill="none" stroke="#cecece" stroke-width="1.1"/><circle cx="95.7" cy="639.7" r="3.0" fill="none" stroke="#8e8e8e" stroke-width="1.1"/><circle cx="106.6" cy="645.6" r="3.0" fill="none" stroke="#cecece" stroke-width="1.1"/><circle cx="105.7" cy="644.7" r="3.0" fill="none" stroke="#8e8e8e" stroke-width="1.1"/><circle cx="129.3" cy="638.5" r="1.3" fill="#f2f2f2"/><circle cx="130.7" cy="639.5" r="1.3" fill="#2e2e2e"/><circle cx="133.3" cy="638.5" r="1.3" fill="#f2f2f2"/><circle cx="134.7" cy="639.5" r="1.3" fill="#2e2e2e"/><circle cx="139.3" cy="638.0" r="1.3" fill="#f2f2f2"/><circle cx="140.7" cy="639.0" r="1.3" fill="#2e2e2e"/><circle cx="146.3" cy="637.5" r="1.3" fill="#f2f2f2"/><circle cx="147.7" cy="638.5" r="1.3" fill="#2e2e2e"/><circle cx="150.3" cy="637.0" r="1.3" fill="#f2f2f2"/><circle cx="151.7" cy="638.0" r="1.3" fill="#2e2e2e"/><circle cx="157.3" cy="637.5" r="1.3" fill="#f2f2f2"/><circle cx="158.7" cy="638.5" r="1.3" fill="#2e2e2e"/><circle cx="161.3" cy="637.0" r="1.3" fill="#f2f2f2"/><circle cx="162.7" cy="638.0" r="1.3" fill="#2e2e2e"/><circle cx="169.3" cy="637.0" r="1.3" fill="#f2f2f2"/><circle cx="170.7" cy="638.0" r="1.3" fill="#2e2e2e"/><circle cx="173.3" cy="637.5" r="1.3" fill="#f2f2f2"/><circle cx="174.7" cy="638.5" r="1.3" fill="#2e2e2e"/><circle cx="131.0" cy="643.0" r="1.6" fill="#eeeeee"/><circle cx="181.0" cy="630.0" r="1.6" fill="#eeeeee"/><circle cx="179.0" cy="648.0" r="1.6" fill="#eeeeee"/></g><path d="M67.0,592.0 L100.0,592.0 L104.0,598.0 L99.0,606.0 L93.0,614.0 L88.0,622.0 L84.0,628.0 L70.0,632.0 L67.0,632.0 Z" fill="#a6a6a6" filter="url(#mb)"/><circle cx="83.7" cy="614.4" r="3.4" fill="url(#gran)"/><circle cx="73.8" cy="612.5" r="2.9" fill="url(#gran)"/><circle cx="96.3" cy="595.8" r="2.2" fill="url(#gran)"/><circle cx="70.4" cy="624.4" r="3.0" fill="url(#gran)"/><circle cx="68.5" cy="631.3" r="3.5" fill="url(#gran)"/><circle cx="91.2" cy="616.6" r="1.9" fill="url(#gran)"/><circle cx="67.6" cy="613.1" r="1.7" fill="url(#gran)"/><circle cx="74.0" cy="601.7" r="1.7" fill="url(#gran)"/><circle cx="91.5" cy="610.3" r="2.2" fill="url(#gran)"/><circle cx="78.7" cy="601.2" r="2.2" fill="url(#gran)"/><circle cx="67.0" cy="600.4" r="3.4" fill="url(#gran)"/><circle cx="81.7" cy="594.9" r="2.9" fill="url(#gran)"/><circle cx="95.8" cy="602.8" r="1.8" fill="url(#gran)"/><circle cx="70.7" cy="594.4" r="3.2" fill="url(#gran)"/><circle cx="74.1" cy="621.3" r="1.9" fill="url(#gran)"/><circle cx="90.8" cy="596.7" r="2.4" fill="url(#gran)"/><circle cx="89.1" cy="603.7" r="2.0" fill="url(#gran)"/><circle cx="80.4" cy="627.6" r="3.6" fill="url(#gran)"/><circle cx="81.4" cy="621.4" r="2.8" fill="url(#gran)"/><circle cx="84.8" cy="601.2" r="3.0" fill="url(#gran)"/><circle cx="76.5" cy="592.5" r="2.2" fill="url(#gran)"/><circle cx="98.7" cy="605.9" r="1.8" fill="url(#gran)"/><circle cx="102.1" cy="595.4" r="2.0" fill="url(#gran)"/><circle cx="78.9" cy="606.2" r="2.8" fill="url(#gran)"/><circle cx="86.6" cy="609.5" r="2.4" fill="url(#gran)"/><circle cx="79.6" cy="610.8" r="1.6" fill="url(#gran)"/><circle cx="74.2" cy="607.0" r="1.8" fill="url(#gran)"/><circle cx="71.3" cy="617.0" r="2.5" fill="url(#gran)"/><circle cx="87.0" cy="594.9" r="1.8" fill="url(#gran)"/><circle cx="87.3" cy="621.8" r="3.4" fill="url(#gran)"/><circle cx="93.9" cy="606.7" r="1.8" fill="url(#gran)"/><circle cx="100.1" cy="601.9" r="2.3" fill="url(#gran)"/><circle cx="82.6" cy="608.8" r="1.9" fill="url(#gran)"/><circle cx="78.3" cy="615.7" r="1.7" fill="url(#gran)"/><circle cx="73.7" cy="598.1" r="1.6" fill="url(#gran)"/><circle cx="76.7" cy="623.9" r="1.7" fill="url(#gran)"/><circle cx="69.3" cy="608.4" r="2.3" fill="url(#gran)"/><circle cx="92.2" cy="601.4" r="1.6" fill="url(#gran)"/><circle cx="88.9" cy="613.8" r="1.8" fill="url(#gran)"/><circle cx="77.6" cy="619.2" r="1.8" fill="url(#gran)"/><circle cx="75.6" cy="630.0" r="1.8" fill="url(#gran)"/><circle cx="96.9" cy="592.0" r="1.7" fill="url(#gran)"/><circle cx="77.6" cy="596.6" r="1.7" fill="url(#gran)"/><circle cx="67.3" cy="617.4" r="1.7" fill="url(#gran)"/><circle cx="97.1" cy="599.6" r="1.8" fill="url(#gran)"/><circle cx="99.5" cy="597.7" r="1.6" fill="url(#gran)"/><circle cx="71.4" cy="604.0" r="2.0" fill="url(#gran)"/><circle cx="93.1" cy="592.5" r="2.4" fill="url(#gran)"/><circle cx="85.1" cy="605.8" r="1.7" fill="url(#gran)"/><circle cx="74.1" cy="627.0" r="1.8" fill="url(#gran)"/><circle cx="76.9" cy="645.8" r="2.3" fill="url(#gran)"/><circle cx="75.7" cy="636.4" r="2.3" fill="url(#gran)"/><circle cx="71.7" cy="652.8" r="1.5" fill="url(#gran)"/><circle cx="67.6" cy="644.1" r="2.1" fill="url(#gran)"/><circle cx="79.3" cy="634.9" r="1.7" fill="url(#gran)"/><circle cx="68.5" cy="651.1" r="2.0" fill="url(#gran)"/><circle cx="67.6" cy="637.9" r="1.5" fill="url(#gran)"/><circle cx="70.7" cy="640.5" r="1.8" fill="url(#gran)"/><circle cx="70.3" cy="632.4" r="1.9" fill="url(#gran)"/><circle cx="76.5" cy="652.8" r="1.7" fill="url(#gran)"/><circle cx="69.9" cy="647.1" r="1.7" fill="url(#gran)"/><circle cx="75.7" cy="631.5" r="2.0" fill="url(#gran)"/><circle cx="73.1" cy="655.5" r="1.6" fill="url(#gran)"/><circle cx="105.4" cy="596.3" r="1.0" fill="url(#gran)"/><circle cx="100.7" cy="601.3" r="1.8" fill="url(#gran)"/><circle cx="106.1" cy="593.8" r="1.2" fill="url(#gran)"/><circle cx="101.1" cy="594.3" r="1.7" fill="url(#gran)"/><circle cx="111.8" cy="590.7" r="1.7" fill="url(#gran)"/><circle cx="103.3" cy="597.7" r="1.2" fill="url(#gran)"/><circle cx="109.9" cy="593.4" r="1.6" fill="url(#gran)"/><circle cx="108.2" cy="590.7" r="1.3" fill="url(#gran)"/><circle cx="107.8" cy="597.2" r="1.1" fill="url(#gran)"/><circle cx="104.6" cy="590.4" r="1.0" fill="url(#gran)"/><circle cx="102.0" cy="590.5" r="1.1" fill="url(#gran)"/><circle cx="105.2" cy="598.4" r="1.1" fill="url(#gran)"/><circle cx="103.3" cy="600.0" r="1.1" fill="url(#gran)"/><circle cx="100.7" cy="597.6" r="1.0" fill="url(#gran)"/><circle cx="103.8" cy="593.8" r="1.4" fill="url(#gran)"/></g>
<g clip-path="url(#mc1)"><g filter="url(#mb)"><rect x="196.0" y="589.2" width="116.8" height="66.6" fill="#9e9e9e"/><path d="M190,583 L222,583 L210,594 L190,600 Z" fill="#c0c0c0" filter="url(#mbl)"/><path d="M190,588 L320,588 L320,601 L280,603.5 L252,605 L225,608 L200,612 L190,640 Z" fill="#a4a4a4" filter="url(#mbl)"/><circle cx="251.5" cy="590.1" r="1.2" fill="#3a3a3a"/><circle cx="227.8" cy="592.1" r="1.2" fill="#3a3a3a"/><circle cx="302.7" cy="599.5" r="0.8" fill="#3a3a3a"/><circle cx="287.5" cy="597.1" r="1.2" fill="#3a3a3a"/><circle cx="261.4" cy="602.9" r="1.2" fill="#3a3a3a"/><circle cx="280.4" cy="590.7" r="0.9" fill="#3a3a3a"/><circle cx="252.7" cy="590.8" r="1.1" fill="#3a3a3a"/><circle cx="223.7" cy="599.4" r="1.3" fill="#3a3a3a"/><circle cx="295.0" cy="594.6" r="1.1" fill="#3a3a3a"/><circle cx="227.4" cy="593.9" r="0.7" fill="#3a3a3a"/><circle cx="243.0" cy="600.2" r="1.1" fill="#3a3a3a"/><circle cx="290.0" cy="590.6" r="0.7" fill="#3a3a3a"/><circle cx="309.6" cy="593.9" r="1.2" fill="#3a3a3a"/><circle cx="302.1" cy="594.1" r="1.1" fill="#3a3a3a"/><circle cx="232.6" cy="595.7" r="1.1" fill="#3a3a3a"/><circle cx="232.1" cy="599.1" r="1.2" fill="#3a3a3a"/><circle cx="304.9" cy="593.6" r="0.9" fill="#3a3a3a"/><circle cx="309.8" cy="598.2" r="0.8" fill="#3a3a3a"/><circle cx="306.8" cy="599.7" r="1.0" fill="#3a3a3a"/><circle cx="224.4" cy="593.1" r="1.1" fill="#3a3a3a"/><circle cx="236.9" cy="599.0" r="1.1" fill="#3a3a3a"/><circle cx="216.4" cy="590.1" r="0.9" fill="#3a3a3a"/><circle cx="280.5" cy="591.9" r="0.9" fill="#3a3a3a"/><circle cx="232.3" cy="595.8" r="0.9" fill="#3a3a3a"/><circle cx="240.6" cy="597.7" r="1.0" fill="#3a3a3a"/><circle cx="209.4" cy="602.1" r="1.2" fill="#e8e8e8"/><circle cx="233.4" cy="598.0" r="1.3" fill="#e8e8e8"/><circle cx="312.7" cy="602.8" r="1.0" fill="#e8e8e8"/><circle cx="294.5" cy="595.1" r="0.8" fill="#e8e8e8"/><circle cx="270.5" cy="597.2" r="1.0" fill="#e8e8e8"/><circle cx="224.6" cy="598.4" r="1.1" fill="#e8e8e8"/><circle cx="267.8" cy="596.4" r="1.2" fill="#e8e8e8"/><circle cx="233.3" cy="604.0" r="0.8" fill="#e8e8e8"/><circle cx="292.2" cy="598.8" r="1.4" fill="#e8e8e8"/><circle cx="312.1" cy="603.1" r="1.2" fill="#e8e8e8"/><circle cx="216.9" cy="599.0" r="1.2" fill="#e8e8e8"/><circle cx="216.8" cy="603.2" r="1.1" fill="#e8e8e8"/><circle cx="260.3" cy="602.3" r="1.4" fill="#e8e8e8"/><circle cx="246.3" cy="597.0" r="1.1" fill="#e8e8e8"/><circle cx="233.8" cy="597.8" r="0.8" fill="#e8e8e8"/><circle cx="218.2" cy="592.2" r="1.3" fill="#e8e8e8"/><circle cx="296.0" cy="596.8" r="1.4" fill="#e8e8e8"/><circle cx="303.9" cy="603.9" r="1.3" fill="#e8e8e8"/><circle cx="252.2" cy="598.1" r="1.5" fill="#e8e8e8"/><circle cx="261.5" cy="598.6" r="1.1" fill="#e8e8e8"/><circle cx="234.5" cy="602.8" r="1.0" fill="#e8e8e8"/><circle cx="285.2" cy="592.9" r="0.9" fill="#e8e8e8"/><circle cx="283.3" cy="596.0" r="1.3" fill="#e8e8e8"/><circle cx="225.0" cy="598.8" r="1.0" fill="#e8e8e8"/><circle cx="242.6" cy="602.1" r="0.8" fill="#e8e8e8"/><circle cx="213.9" cy="592.3" r="1.4" fill="#e8e8e8"/><circle cx="307.9" cy="594.7" r="0.9" fill="#e8e8e8"/><circle cx="312.7" cy="589.6" r="0.8" fill="#e8e8e8"/><circle cx="221.0" cy="602.5" r="1.0" fill="#e8e8e8"/><circle cx="250.0" cy="603.1" r="1.2" fill="#e8e8e8"/><circle cx="217.4" cy="600.0" r="1.1" fill="#e8e8e8"/><circle cx="293.4" cy="591.5" r="1.5" fill="#e8e8e8"/><circle cx="289.8" cy="589.6" r="1.1" fill="#e8e8e8"/><circle cx="258.6" cy="592.0" r="1.4" fill="#e8e8e8"/><circle cx="282.7" cy="589.3" r="1.2" fill="#e8e8e8"/><path d="M196,613 L225,609 L252,606 L280,604.5 L313,602.5" fill="none" stroke="#bdbdbd" stroke-width="1.4"/><path d="M190,640 L250,641 L313,636 L313,642 L255,647 L190,648 Z" fill="#939393" filter="url(#mbl)"/><path d="M255,650 C265,646 285,642 313,640.5" fill="none" stroke="#d2d2d2" stroke-width="1.8"/><path d="M190,648 L260,650 L313,646 L313,660 L190,660 Z" fill="#a7a7a7" filter="url(#mbl)"/><circle cx="238.3" cy="615.4" r="4.4" fill="#949494"/><circle cx="238.9" cy="616.0" r="4.4" fill="none" stroke="#c8c8c8" stroke-width="1.3"/><circle cx="238.0" cy="615.1" r="4.4" fill="none" stroke="#707070" stroke-width="1.3"/><circle cx="262.1" cy="614.5" r="4.0" fill="none" stroke="#d4d4d4" stroke-width="1.6"/><circle cx="261.2" cy="613.6" r="4.0" fill="none" stroke="#505050" stroke-width="1.6"/><circle cx="276.0" cy="612.5" r="4.0" fill="none" stroke="#d4d4d4" stroke-width="1.6"/><circle cx="275.1" cy="611.6" r="4.0" fill="none" stroke="#505050" stroke-width="1.6"/><circle cx="296.9" cy="613.5" r="4.5" fill="none" stroke="#d4d4d4" stroke-width="1.6"/><circle cx="296.0" cy="612.6" r="4.5" fill="none" stroke="#505050" stroke-width="1.6"/><circle cx="216.0" cy="634.9" r="4.0" fill="none" stroke="#d4d4d4" stroke-width="1.6"/><circle cx="215.1" cy="634.0" r="4.0" fill="none" stroke="#505050" stroke-width="1.6"/><circle cx="250.8" cy="628.4" r="3.2" fill="none" stroke="#d4d4d4" stroke-width="1.6"/><circle cx="249.9" cy="627.5" r="3.2" fill="none" stroke="#505050" stroke-width="1.6"/><circle cx="286.9" cy="626.4" r="4.0" fill="none" stroke="#d4d4d4" stroke-width="1.6"/><circle cx="286.0" cy="625.5" r="4.0" fill="none" stroke="#505050" stroke-width="1.6"/><circle cx="302.8" cy="629.4" r="4.8" fill="none" stroke="#d4d4d4" stroke-width="1.6"/><circle cx="301.9" cy="628.5" r="4.8" fill="none" stroke="#505050" stroke-width="1.6"/><circle cx="268.9" cy="626.8" r="3.6" fill="#959595"/><circle cx="269.5" cy="627.4" r="3.6" fill="none" stroke="#bdbdbd" stroke-width="1.1"/><circle cx="268.6" cy="626.5" r="3.6" fill="none" stroke="#7a7a7a" stroke-width="1.1"/><circle cx="237.4" cy="636.4" r="2.4" fill="none" stroke="#c0c0c0" stroke-width="1.0"/><circle cx="236.5" cy="635.5" r="2.4" fill="none" stroke="#808080" stroke-width="1.0"/><circle cx="197.5" cy="644.7" r="1.5" fill="#2a2a2a"/><circle cx="208.9" cy="644.7" r="1.5" fill="#2a2a2a"/><circle cx="217.9" cy="644.7" r="1.5" fill="#2a2a2a"/><ellipse cx="229" cy="644.7" rx="3" ry="1.4" fill="#2e2e2e"/><circle cx="202.5" cy="651.2" r="1.5" fill="#f0f0f0"/><circle cx="212.3" cy="651.2" r="1.5" fill="#f0f0f0"/><circle cx="225.3" cy="651.2" r="1.5" fill="#f0f0f0"/><circle cx="291.3" cy="649.2" r="1.5" fill="#f0f0f0"/><circle cx="300.3" cy="650.2" r="1.5" fill="#f0f0f0"/><circle cx="310.7" cy="649.2" r="1.5" fill="#f0f0f0"/></g><path d="M197.0,600.0 L212.0,594.0 L222.0,589.0 L313.0,589.0 L313.0,600.0 L280.0,602.5 L252.0,604.0 L225.0,607.0 L204.0,611.0 L199.0,630.0 L197.0,640.0 Z" fill="#8e8e8e" filter="url(#mb)"/><circle cx="263.0" cy="595.7" r="2.3" fill="url(#gran)"/><circle cx="298.5" cy="592.2" r="1.5" fill="url(#gran)"/><circle cx="240.6" cy="594.3" r="1.1" fill="url(#grand)"/><circle cx="210.2" cy="607.5" r="1.6" fill="url(#gran)"/><circle cx="311.0" cy="594.0" r="1.9" fill="url(#gran)"/><circle cx="290.9" cy="589.9" r="2.3" fill="url(#grand)"/><circle cx="224.5" cy="597.3" r="2.0" fill="url(#gran)"/><circle cx="234.0" cy="596.9" r="1.4" fill="url(#gran)"/><circle cx="299.4" cy="596.9" r="1.2" fill="url(#gran)"/><circle cx="243.3" cy="600.2" r="1.8" fill="url(#grand)"/><circle cx="302.9" cy="591.5" r="2.3" fill="url(#gran)"/><circle cx="273.1" cy="598.5" r="2.1" fill="url(#gran)"/><circle cx="230.1" cy="605.1" r="2.2" fill="url(#gran)"/><circle cx="220.8" cy="602.5" r="2.1" fill="url(#gran)"/><circle cx="292.4" cy="599.9" r="2.1" fill="url(#gran)"/><circle cx="281.5" cy="593.6" r="2.1" fill="url(#grand)"/><circle cx="235.8" cy="591.6" r="1.7" fill="url(#gran)"/><circle cx="217.2" cy="599.6" r="2.0" fill="url(#gran)"/><circle cx="258.3" cy="600.8" r="1.4" fill="url(#gran)"/><circle cx="307.4" cy="591.3" r="1.9" fill="url(#gran)"/><circle cx="213.8" cy="594.1" r="1.9" fill="url(#gran)"/><circle cx="304.2" cy="598.6" r="1.6" fill="url(#gran)"/><circle cx="244.3" cy="592.8" r="1.5" fill="url(#gran)"/><circle cx="280.6" cy="599.7" r="1.8" fill="url(#gran)"/><circle cx="273.8" cy="592.9" r="1.9" fill="url(#grand)"/><circle cx="276.0" cy="589.6" r="1.7" fill="url(#gran)"/><circle cx="257.1" cy="596.5" r="1.5" fill="url(#grand)"/><circle cx="220.2" cy="596.0" r="1.1" fill="url(#gran)"/><circle cx="234.9" cy="602.3" r="1.8" fill="url(#gran)"/><circle cx="199.6" cy="615.9" r="2.2" fill="url(#grand)"/><circle cx="241.6" cy="590.1" r="1.3" fill="url(#gran)"/><circle cx="197.9" cy="609.6" r="1.7" fill="url(#gran)"/><circle cx="197.3" cy="602.2" r="1.2" fill="url(#gran)"/><circle cx="249.3" cy="592.3" r="1.3" fill="url(#gran)"/><circle cx="246.6" cy="599.7" r="1.1" fill="url(#grand)"/><circle cx="222.3" cy="589.8" r="1.8" fill="url(#gran)"/><circle cx="228.3" cy="600.3" r="1.9" fill="url(#gran)"/><circle cx="250.4" cy="603.5" r="1.5" fill="url(#gran)"/><circle cx="243.9" cy="597.4" r="1.3" fill="url(#gran)"/><circle cx="263.1" cy="592.0" r="1.6" fill="url(#grand)"/><circle cx="300.2" cy="600.7" r="2.2" fill="url(#grand)"/><circle cx="284.2" cy="590.5" r="1.3" fill="url(#gran)"/><circle cx="208.0" cy="598.2" r="2.1" fill="url(#gran)"/><circle cx="312.6" cy="599.2" r="2.2" fill="url(#gran)"/><circle cx="200.5" cy="620.1" r="2.1" fill="url(#gran)"/><circle cx="203.0" cy="612.8" r="2.2" fill="url(#gran)"/><circle cx="283.3" cy="597.1" r="1.1" fill="url(#gran)"/><circle cx="268.0" cy="598.7" r="1.1" fill="url(#grand)"/><circle cx="207.8" cy="603.4" r="1.2" fill="url(#gran)"/><circle cx="268.7" cy="593.3" r="1.4" fill="url(#gran)"/><circle cx="200.5" cy="600.5" r="1.1" fill="url(#gran)"/><circle cx="287.1" cy="592.1" r="1.9" fill="url(#grand)"/><circle cx="231.3" cy="592.2" r="1.4" fill="url(#gran)"/><circle cx="223.7" cy="603.3" r="1.1" fill="url(#gran)"/><circle cx="197.4" cy="622.8" r="1.2" fill="url(#gran)"/><circle cx="226.4" cy="603.4" r="1.1" fill="url(#grand)"/><circle cx="272.9" cy="589.2" r="1.5" fill="url(#gran)"/><circle cx="261.8" cy="599.5" r="1.2" fill="url(#gran)"/><circle cx="244.2" cy="589.7" r="1.6" fill="url(#gran)"/><circle cx="264.3" cy="602.3" r="2.1" fill="url(#gran)"/><circle cx="305.5" cy="594.8" r="1.9" fill="url(#gran)"/><circle cx="238.3" cy="599.0" r="1.4" fill="url(#grand)"/><circle cx="203.4" cy="600.3" r="2.0" fill="url(#gran)"/><circle cx="216.9" cy="606.4" r="1.4" fill="url(#gran)"/><circle cx="254.2" cy="593.3" r="1.3" fill="url(#gran)"/><circle cx="285.9" cy="595.9" r="1.5" fill="url(#gran)"/><circle cx="257.7" cy="590.8" r="2.0" fill="url(#gran)"/><circle cx="211.4" cy="601.4" r="2.3" fill="url(#gran)"/><circle cx="214.5" cy="604.0" r="1.9" fill="url(#gran)"/><circle cx="313.0" cy="590.5" r="1.2" fill="url(#gran)"/><circle cx="246.5" cy="603.0" r="1.5" fill="url(#grand)"/><circle cx="227.8" cy="589.0" r="1.3" fill="url(#gran)"/><circle cx="203.5" cy="604.0" r="1.9" fill="url(#gran)"/><circle cx="231.4" cy="598.0" r="1.5" fill="url(#gran)"/><circle cx="238.5" cy="603.6" r="1.2" fill="url(#gran)"/><circle cx="269.3" cy="602.9" r="2.2" fill="url(#gran)"/><circle cx="252.2" cy="589.2" r="1.9" fill="url(#gran)"/><circle cx="243.1" cy="603.2" r="1.5" fill="url(#gran)"/><circle cx="290.2" cy="594.7" r="2.2" fill="url(#gran)"/><circle cx="251.7" cy="596.1" r="1.8" fill="url(#gran)"/><circle cx="236.4" cy="595.3" r="1.8" fill="url(#gran)"/><circle cx="205.7" cy="607.5" r="1.2" fill="url(#grand)"/><circle cx="295.0" cy="595.0" r="2.4" fill="url(#gran)"/><circle cx="248.0" cy="596.7" r="1.3" fill="url(#grand)"/><circle cx="216.1" cy="592.0" r="1.1" fill="url(#gran)"/><circle cx="218.4" cy="593.4" r="1.2" fill="url(#gran)"/><circle cx="296.4" cy="589.9" r="1.5" fill="url(#gran)"/><circle cx="295.9" cy="598.6" r="1.2" fill="url(#gran)"/><circle cx="275.9" cy="601.6" r="1.2" fill="url(#gran)"/><circle cx="269.2" cy="589.7" r="1.8" fill="url(#gran)"/><circle cx="210.4" cy="604.4" r="1.2" fill="url(#gran)"/><circle cx="256.6" cy="603.5" r="1.6" fill="url(#grand)"/><circle cx="278.1" cy="593.9" r="1.5" fill="url(#gran)"/><circle cx="308.8" cy="599.9" r="1.5" fill="url(#gran)"/><circle cx="247.9" cy="589.1" r="1.3" fill="url(#gran)"/><circle cx="227.1" cy="606.7" r="1.2" fill="url(#gran)"/><circle cx="199.5" cy="605.1" r="1.9" fill="url(#grand)"/><circle cx="197.1" cy="606.6" r="1.2" fill="url(#gran)"/><circle cx="197.7" cy="627.7" r="2.3" fill="url(#gran)"/><circle cx="307.5" cy="597.0" r="1.3" fill="url(#gran)"/><circle cx="202.0" cy="608.9" r="1.4" fill="url(#gran)"/><circle cx="266.0" cy="590.7" r="1.5" fill="url(#gran)"/><circle cx="223.9" cy="606.4" r="1.3" fill="url(#gran)"/><circle cx="254.4" cy="596.3" r="1.1" fill="url(#gran)"/><circle cx="286.1" cy="598.9" r="1.6" fill="url(#gran)"/><circle cx="260.5" cy="589.1" r="1.4" fill="url(#gran)"/><circle cx="198.8" cy="612.3" r="1.3" fill="url(#gran)"/><circle cx="219.6" cy="606.1" r="1.4" fill="url(#gran)"/><circle cx="279.5" cy="590.5" r="1.2" fill="url(#gran)"/><circle cx="278.4" cy="602.2" r="1.3" fill="url(#gran)"/><circle cx="227.5" cy="592.2" r="1.3" fill="url(#gran)"/><circle cx="270.1" cy="599.3" r="1.1" fill="url(#gran)"/><circle cx="249.4" cy="599.2" r="1.9" fill="url(#gran)"/><circle cx="224.0" cy="600.7" r="1.7" fill="url(#gran)"/><circle cx="213.0" cy="596.9" r="1.1" fill="url(#gran)"/><circle cx="276.1" cy="596.1" r="1.6" fill="url(#gran)"/><circle cx="268.5" cy="596.0" r="1.1" fill="url(#gran)"/><circle cx="221.3" cy="598.1" r="1.1" fill="url(#gran)"/><circle cx="233.4" cy="589.6" r="1.1" fill="url(#gran)"/><circle cx="285.8" cy="601.7" r="1.1" fill="url(#gran)"/><circle cx="207.6" cy="606.0" r="1.3" fill="url(#gran)"/><circle cx="254.0" cy="600.3" r="2.2" fill="url(#gran)"/><circle cx="265.2" cy="598.9" r="1.6" fill="url(#grand)"/><circle cx="197.0" cy="633.5" r="1.5" fill="url(#gran)"/><circle cx="259.3" cy="603.5" r="1.3" fill="url(#gran)"/><circle cx="221.4" cy="593.3" r="1.2" fill="url(#gran)"/><circle cx="241.2" cy="597.3" r="1.2" fill="url(#gran)"/><circle cx="238.6" cy="591.1" r="1.2" fill="url(#gran)"/><circle cx="198.3" cy="631.3" r="1.4" fill="url(#gran)"/><circle cx="231.9" cy="595.4" r="1.3" fill="url(#grand)"/><circle cx="277.2" cy="598.7" r="1.1" fill="url(#gran)"/><circle cx="199.5" cy="623.0" r="1.2" fill="url(#gran)"/><circle cx="278.7" cy="597.0" r="1.2" fill="url(#grand)"/><circle cx="216.6" cy="596.1" r="1.7" fill="url(#gran)"/><circle cx="206.4" cy="609.6" r="1.2" fill="url(#gran)"/><circle cx="213.4" cy="608.4" r="1.8" fill="url(#gran)"/><circle cx="197.3" cy="637.1" r="1.6" fill="url(#gran)"/><circle cx="202.0" cy="603.4" r="3.6" fill="url(#gran)"/></g>
<g clip-path="url(#mc2)"><g filter="url(#mb)"><rect x="433.3" y="589.0" width="115.7" height="66.6" fill="#b0b0b0"/><path d="M428,584 L515,584 L508,590 L492,595.5 L481.7,597.9 L471.8,601.9 L462.8,607.9 L454.9,614.9 L444.9,620.8 L440,628 L437,650 L428,650 Z" fill="#a2a2a2" filter="url(#mbl)"/><path d="M439,644 L440,628 L444.9,620.8 L454.9,614.9 L462.8,607.9 L471.8,601.9 L481.7,597.9 L492,595.5 L508,590.2 L516,588" fill="none" stroke="#d4d4d4" stroke-width="1.6"/><path d="M437,627 L437.5,644" fill="none" stroke="#2a2a2a" stroke-width="2"/><path d="M428,646 L470,643 L510,636 L549,631 L555,633 L555,660 L428,660 Z" fill="#9c9c9c" filter="url(#mbl)"/><path d="M436,651 C470,646 505,641 549,636" fill="none" stroke="#b8b8b8" stroke-width="1.5"/><circle cx="503.5" cy="602.0" r="3.0" fill="none" stroke="#d0d0d0" stroke-width="1.1"/><circle cx="502.6" cy="601.1" r="3.0" fill="none" stroke="#858585" stroke-width="1.1"/><circle cx="497.6" cy="613.5" r="3.0" fill="none" stroke="#d0d0d0" stroke-width="1.1"/><circle cx="496.7" cy="612.6" r="3.0" fill="none" stroke="#858585" stroke-width="1.1"/><circle cx="514.0" cy="611.0" r="3.0" fill="none" stroke="#d0d0d0" stroke-width="1.1"/><circle cx="513.1" cy="610.1" r="3.0" fill="none" stroke="#858585" stroke-width="1.1"/><circle cx="494.6" cy="624.9" r="3.0" fill="none" stroke="#d0d0d0" stroke-width="1.1"/><circle cx="493.7" cy="624.0" r="3.0" fill="none" stroke="#858585" stroke-width="1.1"/><circle cx="509.0" cy="620.9" r="3.0" fill="none" stroke="#d0d0d0" stroke-width="1.1"/><circle cx="508.1" cy="620.0" r="3.0" fill="none" stroke="#858585" stroke-width="1.1"/><circle cx="524.4" cy="616.5" r="3.0" fill="none" stroke="#d0d0d0" stroke-width="1.1"/><circle cx="523.5" cy="615.6" r="3.0" fill="none" stroke="#858585" stroke-width="1.1"/><circle cx="526.4" cy="604.5" r="3.0" fill="none" stroke="#d0d0d0" stroke-width="1.1"/><circle cx="525.5" cy="603.6" r="3.0" fill="none" stroke="#858585" stroke-width="1.1"/><circle cx="528.9" cy="595.1" r="3.0" fill="none" stroke="#d0d0d0" stroke-width="1.1"/><circle cx="528.0" cy="594.2" r="3.0" fill="none" stroke="#858585" stroke-width="1.1"/><circle cx="541.3" cy="593.6" r="3.0" fill="none" stroke="#d0d0d0" stroke-width="1.1"/><circle cx="540.4" cy="592.7" r="3.0" fill="none" stroke="#858585" stroke-width="1.1"/><circle cx="540.3" cy="603.5" r="3.0" fill="none" stroke="#d0d0d0" stroke-width="1.1"/><circle cx="539.4" cy="602.6" r="3.0" fill="none" stroke="#858585" stroke-width="1.1"/><circle cx="533.9" cy="613.5" r="3.0" fill="none" stroke="#d0d0d0" stroke-width="1.1"/><circle cx="533.0" cy="612.6" r="3.0" fill="none" stroke="#858585" stroke-width="1.1"/><circle cx="458.6" cy="634.6" r="3.0" fill="none" stroke="#d0d0d0" stroke-width="1.1"/><circle cx="457.7" cy="633.7" r="3.0" fill="none" stroke="#858585" stroke-width="1.1"/><circle cx="468.6" cy="628.6" r="3.0" fill="none" stroke="#d0d0d0" stroke-width="1.1"/><circle cx="467.7" cy="627.7" r="3.0" fill="none" stroke="#858585" stroke-width="1.1"/><circle cx="478.6" cy="622.6" r="3.0" fill="none" stroke="#d0d0d0" stroke-width="1.1"/><circle cx="477.7" cy="621.7" r="3.0" fill="none" stroke="#858585" stroke-width="1.1"/><circle cx="486.6" cy="613.6" r="3.0" fill="none" stroke="#d0d0d0" stroke-width="1.1"/><circle cx="485.7" cy="612.7" r="3.0" fill="none" stroke="#858585" stroke-width="1.1"/><circle cx="473.6" cy="614.6" r="3.0" fill="none" stroke="#d0d0d0" stroke-width="1.1"/><circle cx="472.7" cy="613.7" r="3.0" fill="none" stroke="#858585" stroke-width="1.1"/><circle cx="463.6" cy="624.6" r="3.0" fill="none" stroke="#d0d0d0" stroke-width="1.1"/><circle cx="462.7" cy="623.7" r="3.0" fill="none" stroke="#858585" stroke-width="1.1"/><circle cx="482.6" cy="632.6" r="3.0" fill="none" stroke="#d0d0d0" stroke-width="1.1"/><circle cx="481.7" cy="631.7" r="3.0" fill="none" stroke="#858585" stroke-width="1.1"/><circle cx="454.6" cy="626.6" r="3.0" fill="none" stroke="#d0d0d0" stroke-width="1.1"/><circle cx="453.7" cy="625.7" r="3.0" fill="none" stroke="#858585" stroke-width="1.1"/><circle cx="476.6" cy="605.6" r="3.0" fill="none" stroke="#d0d0d0" stroke-width="1.1"/><circle cx="475.7" cy="604.7" r="3.0" fill="none" stroke="#858585" stroke-width="1.1"/><circle cx="487.6" cy="602.6" r="3.0" fill="none" stroke="#d0d0d0" stroke-width="1.1"/><circle cx="486.7" cy="601.7" r="3.0" fill="none" stroke="#858585" stroke-width="1.1"/><circle cx="524.6" cy="629.3" r="1.3" fill="#f2f2f2"/><circle cx="526.0" cy="630.3" r="1.3" fill="#2e2e2e"/><circle cx="539.0" cy="625.8" r="1.3" fill="#f2f2f2"/><circle cx="540.4" cy="626.8" r="1.3" fill="#2e2e2e"/><circle cx="544.5" cy="629.3" r="1.3" fill="#f2f2f2"/><circle cx="545.9" cy="630.3" r="1.3" fill="#2e2e2e"/><circle cx="498.3" cy="634.8" r="1.3" fill="#f2f2f2"/><circle cx="499.7" cy="635.8" r="1.3" fill="#2e2e2e"/><circle cx="506.2" cy="631.8" r="1.3" fill="#f2f2f2"/><circle cx="507.6" cy="632.8" r="1.3" fill="#2e2e2e"/><circle cx="465.3" cy="637.5" r="1.3" fill="#f2f2f2"/><circle cx="466.7" cy="638.5" r="1.3" fill="#2e2e2e"/><circle cx="479.3" cy="640.5" r="1.3" fill="#f2f2f2"/><circle cx="480.7" cy="641.5" r="1.3" fill="#2e2e2e"/></g><path d="M433.0,589.0 L472.0,589.0 L468.0,596.0 L458.0,602.0 L446.0,607.0 L434.0,610.0 Z" fill="#969696" filter="url(#mb)"/><circle cx="452.4" cy="594.5" r="1.9" fill="url(#gran)"/><circle cx="436.5" cy="607.1" r="2.0" fill="url(#gran)"/><circle cx="455.4" cy="599.6" r="1.9" fill="url(#grand)"/><circle cx="440.7" cy="606.9" r="1.5" fill="url(#gran)"/><circle cx="456.2" cy="590.2" r="2.0" fill="url(#gran)"/><circle cx="447.4" cy="601.8" r="1.3" fill="url(#gran)"/><circle cx="434.3" cy="591.6" r="2.1" fill="url(#gran)"/><circle cx="443.6" cy="602.7" r="1.7" fill="url(#gran)"/><circle cx="445.2" cy="595.5" r="1.2" fill="url(#gran)"/><circle cx="451.0" cy="600.6" r="1.9" fill="url(#gran)"/><circle cx="441.4" cy="595.8" r="2.2" fill="url(#gran)"/><circle cx="447.5" cy="590.4" r="1.4" fill="url(#gran)"/><circle cx="444.7" cy="606.8" r="1.5" fill="url(#grand)"/><circle cx="452.7" cy="603.7" r="1.9" fill="url(#gran)"/><circle cx="465.0" cy="596.5" r="1.7" fill="url(#gran)"/><circle cx="436.7" cy="603.2" r="1.3" fill="url(#gran)"/><circle cx="445.8" cy="598.8" r="2.1" fill="url(#gran)"/><circle cx="435.5" cy="600.9" r="1.3" fill="url(#gran)"/><circle cx="440.4" cy="589.9" r="1.3" fill="url(#gran)"/><circle cx="447.7" cy="604.9" r="1.3" fill="url(#gran)"/><circle cx="451.8" cy="589.6" r="1.6" fill="url(#gran)"/><circle cx="467.5" cy="591.0" r="1.2" fill="url(#gran)"/><circle cx="460.8" cy="596.7" r="1.8" fill="url(#gran)"/><circle cx="459.8" cy="590.6" r="1.8" fill="url(#gran)"/><circle cx="470.2" cy="589.3" r="1.8" fill="url(#gran)"/><circle cx="436.5" cy="598.2" r="1.5" fill="url(#gran)"/><circle cx="447.3" cy="593.3" r="1.6" fill="url(#gran)"/><circle cx="443.9" cy="592.7" r="1.4" fill="url(#gran)"/><circle cx="468.5" cy="593.6" r="1.2" fill="url(#gran)"/><circle cx="437.9" cy="590.0" r="1.4" fill="url(#gran)"/><circle cx="458.0" cy="593.1" r="1.5" fill="url(#gran)"/><circle cx="458.5" cy="599.0" r="1.5" fill="url(#gran)"/><circle cx="439.0" cy="593.1" r="1.2" fill="url(#gran)"/><circle cx="463.0" cy="592.3" r="1.3" fill="url(#grand)"/><circle cx="434.5" cy="595.3" r="1.6" fill="url(#gran)"/><circle cx="449.2" cy="596.7" r="1.6" fill="url(#gran)"/><circle cx="440.5" cy="604.1" r="1.4" fill="url(#gran)"/><circle cx="456.9" cy="596.5" r="1.6" fill="url(#gran)"/><circle cx="452.7" cy="597.6" r="1.4" fill="url(#grand)"/><circle cx="440.9" cy="600.4" r="1.3" fill="url(#gran)"/><circle cx="444.2" cy="589.3" r="2.2" fill="url(#gran)"/><circle cx="463.1" cy="594.6" r="1.3" fill="url(#gran)"/><circle cx="466.0" cy="589.2" r="1.2" fill="url(#gran)"/><circle cx="433.7" cy="604.1" r="1.3" fill="url(#gran)"/><circle cx="433.7" cy="599.4" r="1.2" fill="url(#grand)"/><circle cx="463.3" cy="589.8" r="1.4" fill="url(#gran)"/><circle cx="455.6" cy="602.6" r="1.3" fill="url(#gran)"/><circle cx="465.4" cy="592.4" r="1.4" fill="url(#grand)"/><circle cx="438.7" cy="601.5" r="1.2" fill="url(#gran)"/></g>
<g clip-path="url(#mc3)"><g filter="url(#mb)"><rect x="560.3" y="589.0" width="116.0" height="66.6" fill="#c7c7c7"/><path d="M555,584 L640,584 L615,593 L590,603 L570,612 L555,618 Z" fill="#b4b4b4" filter="url(#mbl)"/><path d="M555,584 L615,584 L595,591 L575,599 L555,606 Z" fill="#989898" filter="url(#mbl)"/><path d="M555,615 L572,610 L590,604 L615,594 L635,584 L640,590 L618,598 L595,608 L575,618 L555,628 Z" fill="#cdcdcd" filter="url(#mbl)"/><path d="M561,624 L570,619.5 L587,610 L600,603 L618.7,595 L640,588.5" fill="none" stroke="#e6e6e6" stroke-width="1.8"/><path d="M561,621.5 L570,617 L587,607.5 L600,600.5 L618.7,592.5 L640,586" fill="none" stroke="#9a9a9a" stroke-width="1.0"/><path d="M555,640 L600,640 L640,634 L680,630 L680,660 L555,660 Z" fill="#c0c0c0" filter="url(#mbl)"/><path d="M635,648 L680,642 L680,662 L635,662 Z" fill="#e4e4e4" filter="url(#mbl)"/><path d="M562,652 C590,646 615,642 640,640" fill="none" stroke="#e0e0e0" stroke-width="1.5"/><circle cx="590.4" cy="627.4" r="3.6" fill="none" stroke="#e6e6e6" stroke-width="1.3"/><circle cx="589.5" cy="626.5" r="3.6" fill="none" stroke="#8a8a8a" stroke-width="1.3"/><circle cx="608.8" cy="627.4" r="5.0" fill="none" stroke="#e6e6e6" stroke-width="1.3"/><circle cx="607.9" cy="626.5" r="5.0" fill="none" stroke="#8a8a8a" stroke-width="1.3"/><circle cx="625.1" cy="612.5" r="4.2" fill="none" stroke="#e6e6e6" stroke-width="1.3"/><circle cx="624.2" cy="611.6" r="4.2" fill="none" stroke="#8a8a8a" stroke-width="1.3"/><circle cx="646.9" cy="613.0" r="4.6" fill="none" stroke="#e6e6e6" stroke-width="1.3"/><circle cx="646.0" cy="612.1" r="4.6" fill="none" stroke="#8a8a8a" stroke-width="1.3"/><circle cx="667.3" cy="616.5" r="4.0" fill="none" stroke="#e6e6e6" stroke-width="1.3"/><circle cx="666.4" cy="615.6" r="4.0" fill="none" stroke="#8a8a8a" stroke-width="1.3"/><circle cx="630.0" cy="627.9" r="4.8" fill="none" stroke="#e6e6e6" stroke-width="1.3"/><circle cx="629.1" cy="627.0" r="4.8" fill="none" stroke="#8a8a8a" stroke-width="1.3"/><circle cx="660.9" cy="598.0" r="3.6" fill="none" stroke="#e6e6e6" stroke-width="1.3"/><circle cx="660.0" cy="597.1" r="3.6" fill="none" stroke="#8a8a8a" stroke-width="1.3"/><circle cx="674.3" cy="604.5" r="3.6" fill="none" stroke="#e6e6e6" stroke-width="1.3"/><circle cx="673.4" cy="603.6" r="3.6" fill="none" stroke="#8a8a8a" stroke-width="1.3"/><circle cx="667.3" cy="638.8" r="3.4" fill="none" stroke="#e6e6e6" stroke-width="1.3"/><circle cx="666.4" cy="637.9" r="3.4" fill="none" stroke="#8a8a8a" stroke-width="1.3"/><circle cx="605.8" cy="607.4" r="1.4" fill="#2c2c2c"/><circle cx="598.3" cy="612.4" r="1.4" fill="#2c2c2c"/><circle cx="579.4" cy="617.3" r="1.4" fill="#2c2c2c"/><circle cx="606.8" cy="644.7" r="1.4" fill="#2c2c2c"/><circle cx="614.7" cy="642.7" r="1.4" fill="#2c2c2c"/><circle cx="578.9" cy="649.7" r="1.4" fill="#2c2c2c"/><circle cx="575.9" cy="654.7" r="1.4" fill="#2c2c2c"/><circle cx="635.9" cy="592.5" r="1.4" fill="#2c2c2c"/><circle cx="641.4" cy="593.0" r="1.4" fill="#2c2c2c"/><circle cx="643.9" cy="635.8" r="1.4" fill="#2c2c2c"/><circle cx="638.4" cy="640.2" r="1.4" fill="#2c2c2c"/><circle cx="644.9" cy="640.2" r="1.4" fill="#2c2c2c"/><circle cx="583.0" cy="654.0" r="1.4" fill="#2c2c2c"/><circle cx="590.0" cy="652.0" r="1.4" fill="#2c2c2c"/><circle cx="619.0" cy="601.0" r="1.6" fill="#f4f4f4"/><circle cx="628.9" cy="597.4" r="1.6" fill="#f4f4f4"/><circle cx="636.9" cy="594.0" r="1.6" fill="#f4f4f4"/><circle cx="574.0" cy="614.0" r="1.6" fill="#f4f4f4"/><circle cx="566.0" cy="619.0" r="1.6" fill="#f4f4f4"/><circle cx="645.0" cy="642.0" r="1.6" fill="#f4f4f4"/></g></g>
<path d="M169.1,659.2 C165.2,660.1 154.1,662.5 145.4,664.5 C136.7,666.5 124.8,668.9 116.9,671.1 C109.0,673.3 103.0,675.4 98.0,677.8 C92.9,680.1 89.7,682.5 86.6,685.4 C83.4,688.2 80.9,691.7 79.0,694.9 C77.1,698.0 75.9,701.8 75.2,704.3 C74.5,706.9 74.2,708.7 74.6,710.4 C75.0,712.1 76.3,713.7 77.5,714.6 C78.7,715.4 78.4,715.8 81.8,715.5 C85.2,715.3 92.1,714.1 98.0,712.9 C103.8,711.7 110.0,710.2 116.9,708.1 C123.9,706.1 132.4,702.8 139.7,700.5 C147.0,698.3 153.9,696.6 160.6,694.9 C167.2,693.1 176.4,690.9 179.6,690.1" fill="none" stroke="#000" stroke-width="1.45" stroke-linecap="round"/>
<ellipse cx="158.3" cy="667.3" rx="2.6" ry="2.1" fill="none" stroke="#000" stroke-width="1.3"/>
<ellipse cx="169.7" cy="665.4" rx="2.2" ry="2.6" fill="none" stroke="#000" stroke-width="1.3"/>
<ellipse cx="177.7" cy="669.2" rx="3.0" ry="2.8" fill="none" stroke="#000" stroke-width="1.3"/>
<ellipse cx="120.4" cy="677.4" rx="2.6" ry="2.3" fill="none" stroke="#000" stroke-width="1.3"/>
<ellipse cx="130.6" cy="678.2" rx="2.0" ry="2.3" fill="none" stroke="#000" stroke-width="1.3"/>
<ellipse cx="141.2" cy="675.5" rx="2.3" ry="1.8" fill="none" stroke="#000" stroke-width="1.3"/>
<ellipse cx="151.1" cy="674.0" rx="2.8" ry="2.1" fill="none" stroke="#000" stroke-width="1.3"/>
<ellipse cx="159.1" cy="675.5" rx="2.3" ry="1.9" fill="none" stroke="#000" stroke-width="1.3"/>
<ellipse cx="168.2" cy="674.0" rx="2.3" ry="1.9" fill="none" stroke="#000" stroke-width="1.3"/>
<ellipse cx="176.7" cy="681.2" rx="3.0" ry="2.6" fill="none" stroke="#000" stroke-width="1.3"/>
<ellipse cx="167.2" cy="683.1" rx="2.6" ry="2.3" fill="none" stroke="#000" stroke-width="1.3"/>
<ellipse cx="155.8" cy="685.4" rx="2.6" ry="2.0" fill="none" stroke="#000" stroke-width="1.3"/>
<ellipse cx="146.9" cy="683.5" rx="2.5" ry="2.3" fill="none" stroke="#000" stroke-width="1.3"/>
<ellipse cx="135.5" cy="684.4" rx="2.5" ry="2.3" fill="none" stroke="#000" stroke-width="1.3"/>
<ellipse cx="127.4" cy="684.4" rx="2.0" ry="2.5" fill="none" stroke="#000" stroke-width="1.3"/>
<ellipse cx="116.9" cy="684.4" rx="2.0" ry="2.1" fill="none" stroke="#000" stroke-width="1.3"/>
<ellipse cx="107.8" cy="685.7" rx="2.8" ry="1.9" fill="none" stroke="#000" stroke-width="1.3"/>
<ellipse cx="98.9" cy="685.4" rx="2.0" ry="2.5" fill="none" stroke="#000" stroke-width="1.3"/>
<ellipse cx="88.8" cy="691.4" rx="2.7" ry="2.3" fill="none" stroke="#000" stroke-width="1.3"/>
<ellipse cx="141.2" cy="690.7" rx="2.8" ry="1.9" fill="none" stroke="#000" stroke-width="1.3"/>
<ellipse cx="149.2" cy="691.4" rx="2.0" ry="2.4" fill="none" stroke="#000" stroke-width="1.3"/>
<ellipse cx="131.2" cy="694.9" rx="2.5" ry="2.1" fill="none" stroke="#000" stroke-width="1.3"/>
<ellipse cx="115.0" cy="694.9" rx="2.5" ry="2.4" fill="none" stroke="#000" stroke-width="1.3"/>
<ellipse cx="106.5" cy="694.9" rx="2.7" ry="2.0" fill="none" stroke="#000" stroke-width="1.3"/>
<ellipse cx="84.3" cy="700.2" rx="2.5" ry="2.0" fill="none" stroke="#000" stroke-width="1.3"/>
<ellipse cx="96.1" cy="699.0" rx="2.3" ry="1.8" fill="none" stroke="#000" stroke-width="1.3"/>
<ellipse cx="115.4" cy="702.1" rx="2.4" ry="2.0" fill="none" stroke="#000" stroke-width="1.3"/>
<ellipse cx="125.5" cy="701.5" rx="3.2" ry="2.2" fill="none" stroke="#000" stroke-width="1.3"/>
<ellipse cx="104.6" cy="707.2" rx="2.8" ry="1.9" fill="none" stroke="#000" stroke-width="1.3"/>
<ellipse cx="96.4" cy="709.1" rx="2.0" ry="1.7" fill="none" stroke="#000" stroke-width="1.3"/>
<ellipse cx="76.7" cy="708.5" rx="2.0" ry="3.2" fill="none" stroke="#000" stroke-width="1.3"/>
<path d="M311.5,659.2 C309.6,659.6 303.9,660.9 300.1,661.6 C296.3,662.4 294.4,663.2 288.7,663.5 C283.0,663.9 272.9,663.8 265.9,663.9 C259.0,664.0 253.3,663.9 246.9,664.1 C240.6,664.4 233.3,664.7 228.0,665.4 C222.6,666.1 218.5,667.2 214.7,668.3 C210.9,669.4 207.6,670.7 205.2,672.1 C202.8,673.5 201.5,674.9 200.4,676.8 C199.3,678.7 198.7,681.3 198.5,683.5 C198.4,685.7 198.7,688.1 199.5,690.1 C200.3,692.2 201.7,694.1 203.3,695.8 C204.9,697.5 206.4,699.6 209.0,700.5 C211.5,701.5 213.7,701.6 218.5,701.5 C223.2,701.4 229.5,700.8 237.4,700.2 C245.4,699.5 258.0,698.3 265.9,697.7 C273.8,697.1 279.8,696.8 284.9,696.4 C290.0,696.0 293.1,696.0 296.3,695.4 C299.4,694.9 301.3,693.6 303.9,693.0 C306.4,692.3 310.2,691.7 311.5,691.4" fill="none" stroke="#000" stroke-width="1.45" stroke-linecap="round"/>
<ellipse cx="215.6" cy="677.4" rx="4.2" ry="3.0" fill="none" stroke="#000" stroke-width="1.3"/>
<ellipse cx="237.8" cy="673.4" rx="4.4" ry="3.5" fill="none" stroke="#000" stroke-width="1.3"/>
<ellipse cx="260.6" cy="671.5" rx="5.0" ry="3.7" fill="none" stroke="#000" stroke-width="1.3"/>
<ellipse cx="274.6" cy="670.2" rx="4.0" ry="4.3" fill="none" stroke="#000" stroke-width="1.3"/>
<ellipse cx="295.3" cy="670.6" rx="3.8" ry="4.8" fill="none" stroke="#000" stroke-width="1.3"/>
<ellipse cx="214.7" cy="691.6" rx="4.0" ry="4.6" fill="none" stroke="#000" stroke-width="1.3"/>
<ellipse cx="228.9" cy="687.3" rx="2.4" ry="2.6" fill="none" stroke="#000" stroke-width="1.3"/>
<ellipse cx="237.1" cy="694.5" rx="3.9" ry="3.2" fill="none" stroke="#000" stroke-width="1.3"/>
<ellipse cx="248.8" cy="686.3" rx="3.0" ry="3.1" fill="none" stroke="#000" stroke-width="1.3"/>
<ellipse cx="267.8" cy="684.4" rx="3.8" ry="4.0" fill="none" stroke="#000" stroke-width="1.3"/>
<ellipse cx="284.9" cy="683.5" rx="4.0" ry="4.2" fill="none" stroke="#000" stroke-width="1.3"/>
<ellipse cx="302.4" cy="688.2" rx="4.3" ry="3.8" fill="none" stroke="#000" stroke-width="1.3"/>
<path d="M504.3,658.8 C501.9,659.6 494.5,661.6 489.5,663.5 C484.5,665.4 479.4,667.8 474.3,670.2 C469.3,672.6 463.6,675.1 459.2,677.8 C454.7,680.5 450.8,683.8 447.8,686.3 C444.8,688.8 442.9,690.9 441.1,693.0 C439.4,695.0 438.3,696.8 437.3,698.7 C436.4,700.5 435.6,702.4 435.4,704.3 C435.3,706.2 435.6,708.6 436.4,710.0 C437.2,711.5 438.6,712.2 440.2,712.9 C441.8,713.6 443.7,714.0 445.9,714.2 C448.1,714.4 449.0,714.8 453.5,714.2 C457.9,713.6 466.1,711.9 472.4,710.4 C478.8,708.9 485.1,706.9 491.4,705.3 C497.8,703.6 505.0,701.9 510.4,700.5 C515.8,699.2 519.6,698.1 523.7,697.1 C527.8,696.2 531.3,695.8 535.1,694.9 C538.9,693.9 544.6,692.0 546.5,691.4" fill="none" stroke="#000" stroke-width="1.45" stroke-linecap="round"/>
<ellipse cx="526.5" cy="663.0" rx="2.8" ry="2.3" fill="none" stroke="#000" stroke-width="1.3"/>
<ellipse cx="538.9" cy="662.2" rx="2.7" ry="2.8" fill="none" stroke="#000" stroke-width="1.3"/>
<ellipse cx="523.3" cy="672.1" rx="2.7" ry="2.2" fill="none" stroke="#000" stroke-width="1.3"/>
<ellipse cx="537.4" cy="671.7" rx="2.2" ry="2.5" fill="none" stroke="#000" stroke-width="1.3"/>
<ellipse cx="490.1" cy="670.2" rx="2.6" ry="2.2" fill="none" stroke="#000" stroke-width="1.3"/>
<ellipse cx="501.9" cy="671.3" rx="3.2" ry="2.4" fill="none" stroke="#000" stroke-width="1.3"/>
<ellipse cx="482.5" cy="678.7" rx="2.4" ry="2.4" fill="none" stroke="#000" stroke-width="1.3"/>
<ellipse cx="494.8" cy="681.6" rx="3.2" ry="2.8" fill="none" stroke="#000" stroke-width="1.3"/>
<ellipse cx="510.0" cy="678.5" rx="2.8" ry="1.9" fill="none" stroke="#000" stroke-width="1.3"/>
<ellipse cx="530.5" cy="682.5" rx="2.4" ry="2.5" fill="none" stroke="#000" stroke-width="1.3"/>
<ellipse cx="540.0" cy="681.0" rx="1.9" ry="2.1" fill="none" stroke="#000" stroke-width="1.3"/>
<ellipse cx="520.8" cy="685.0" rx="2.6" ry="2.4" fill="none" stroke="#000" stroke-width="1.3"/>
<ellipse cx="465.2" cy="683.1" rx="2.9" ry="2.4" fill="none" stroke="#000" stroke-width="1.3"/>
<ellipse cx="474.0" cy="686.9" rx="2.6" ry="2.4" fill="none" stroke="#000" stroke-width="1.3"/>
<ellipse cx="484.2" cy="686.9" rx="2.6" ry="2.5" fill="none" stroke="#000" stroke-width="1.3"/>
<ellipse cx="455.4" cy="688.6" rx="2.0" ry="1.9" fill="none" stroke="#000" stroke-width="1.3"/>
<ellipse cx="465.4" cy="691.4" rx="2.8" ry="2.0" fill="none" stroke="#000" stroke-width="1.3"/>
<ellipse cx="505.7" cy="689.2" rx="2.7" ry="2.0" fill="none" stroke="#000" stroke-width="1.3"/>
<ellipse cx="491.8" cy="693.0" rx="2.9" ry="2.2" fill="none" stroke="#000" stroke-width="1.3"/>
<ellipse cx="446.8" cy="695.2" rx="2.6" ry="2.0" fill="none" stroke="#000" stroke-width="1.3"/>
<ellipse cx="456.9" cy="697.1" rx="2.7" ry="2.6" fill="none" stroke="#000" stroke-width="1.3"/>
<ellipse cx="478.7" cy="695.8" rx="2.6" ry="2.4" fill="none" stroke="#000" stroke-width="1.3"/>
<ellipse cx="469.0" cy="700.2" rx="1.9" ry="2.5" fill="none" stroke="#000" stroke-width="1.3"/>
<ellipse cx="448.7" cy="706.2" rx="2.8" ry="1.9" fill="none" stroke="#000" stroke-width="1.3"/>
<ellipse cx="438.3" cy="705.9" rx="1.9" ry="2.9" fill="none" stroke="#000" stroke-width="1.3"/>
<path d="M632.4,660.7 C629.0,662.1 618.5,666.4 611.9,669.2 C605.4,672.1 598.7,674.9 593.0,677.8 C587.3,680.6 581.9,683.6 577.8,686.3 C573.7,689.0 570.7,691.5 568.3,693.9 C565.9,696.3 564.6,698.3 563.5,700.5 C562.5,702.8 562.1,704.8 562.2,707.2 C562.4,709.6 563.2,712.7 564.5,714.8 C565.8,716.8 568.0,718.5 570.2,719.5 C572.4,720.6 574.0,721.0 577.8,721.0 C581.6,721.0 587.3,720.6 593.0,719.5 C598.7,718.5 605.6,716.4 611.9,714.8 C618.3,713.2 624.6,711.9 630.9,710.0 C637.2,708.1 642.3,705.7 649.9,703.4 C657.5,701.1 672.0,697.5 676.5,696.4" fill="none" stroke="#000" stroke-width="1.45" stroke-linecap="round"/>
<ellipse cx="660.3" cy="669.2" rx="3.4" ry="4.4" fill="none" stroke="#000" stroke-width="1.3"/>
<ellipse cx="624.8" cy="683.1" rx="4.9" ry="6.0" fill="none" stroke="#000" stroke-width="1.3"/>
<ellipse cx="648.0" cy="684.4" rx="5.2" ry="4.0" fill="none" stroke="#000" stroke-width="1.3"/>
<ellipse cx="667.0" cy="687.6" rx="3.7" ry="3.8" fill="none" stroke="#000" stroke-width="1.3"/>
<ellipse cx="591.1" cy="697.7" rx="5.0" ry="4.5" fill="none" stroke="#000" stroke-width="1.3"/>
<ellipse cx="609.1" cy="698.7" rx="5.9" ry="5.8" fill="none" stroke="#000" stroke-width="1.3"/>
<ellipse cx="630.9" cy="699.6" rx="4.9" ry="5.5" fill="none" stroke="#000" stroke-width="1.3"/>
<ellipse cx="565.4" cy="708.5" rx="2.6" ry="3.6" fill="none" stroke="#000" stroke-width="1.3"/>
</svg></body></html>
